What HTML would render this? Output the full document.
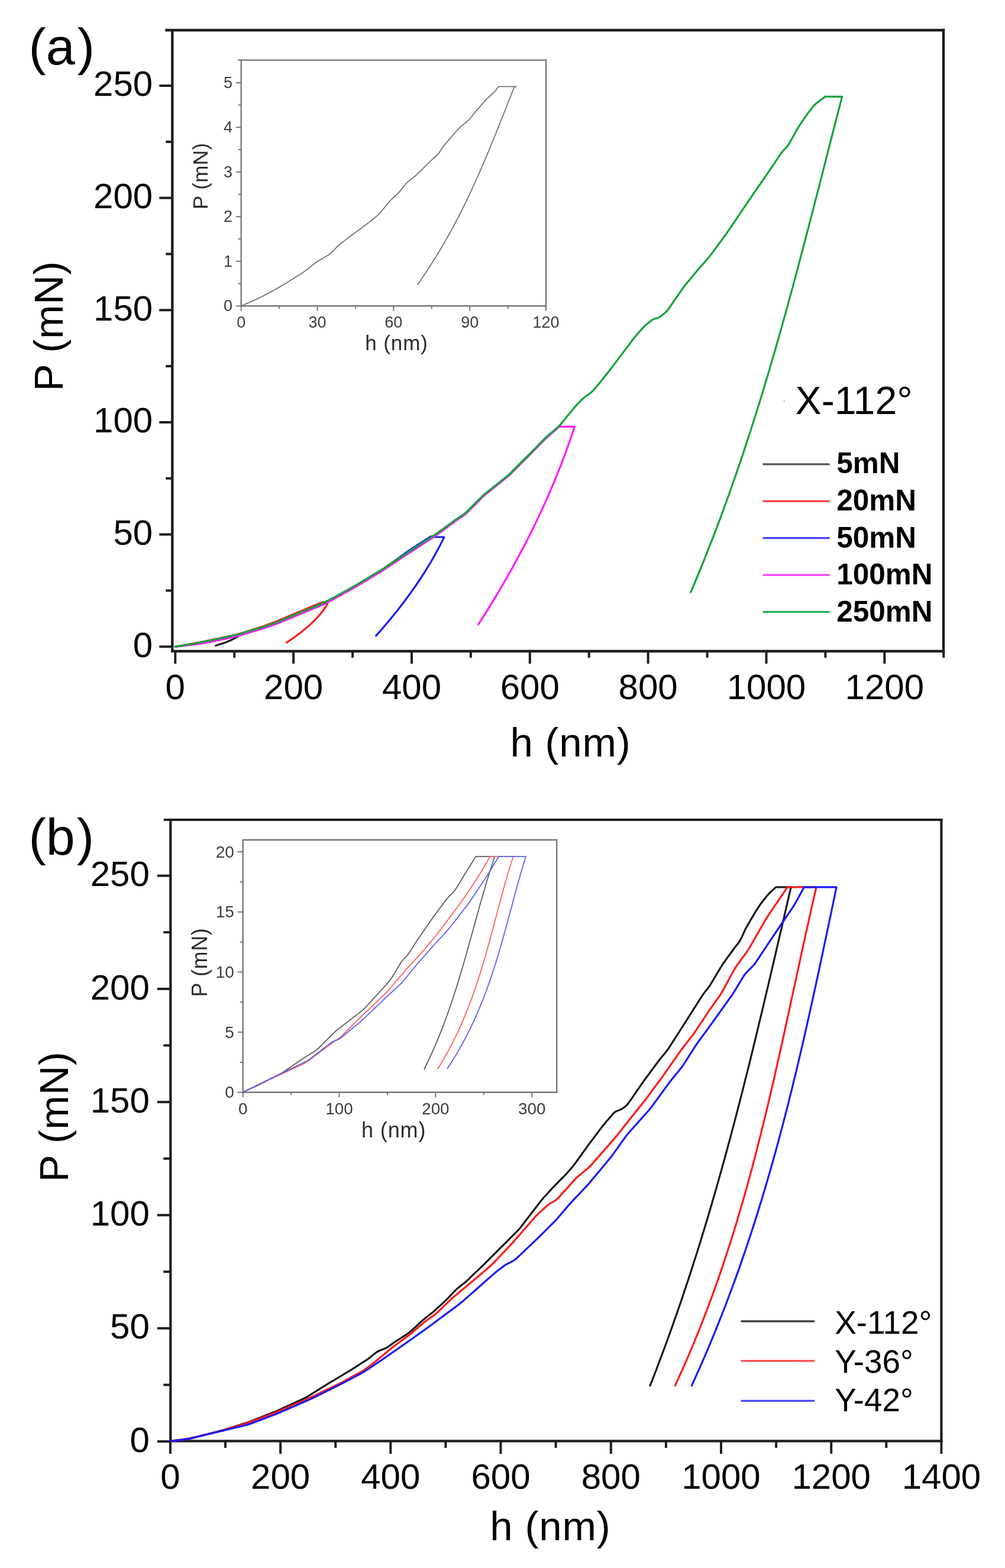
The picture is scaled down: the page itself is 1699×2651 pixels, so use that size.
<!DOCTYPE html>
<html><head><meta charset="utf-8"><title>Load-displacement curves</title>
<style>html,body{margin:0;padding:0;background:#fff;}svg{display:block;}</style>
</head><body>
<svg width="1699" height="2651" viewBox="0 0 1699 2651" font-family='"Liberation Sans", Arial, Helvetica, sans-serif'>
<rect width="1699" height="2651" fill="#fff"/>
<line x1="291.3" y1="51" x2="291.3" y2="1103" stroke="#1e1e1e" stroke-width="4.4" stroke-linecap="butt"/>
<line x1="1595" y1="48.8" x2="1595" y2="1103.2" stroke="#1e1e1e" stroke-width="4.4" stroke-linecap="butt"/>
<line x1="279.3" y1="51" x2="1597.2" y2="51" stroke="#1e1e1e" stroke-width="4.4" stroke-linecap="butt"/>
<line x1="289.1" y1="1101" x2="1597.2" y2="1101" stroke="#1e1e1e" stroke-width="4.4" stroke-linecap="butt"/>
<line x1="269.3" y1="1093.3" x2="291.3" y2="1093.3" stroke="#1e1e1e" stroke-width="4.0" stroke-linecap="butt"/>
<text x="258.2" y="1110.7" font-size="60" fill="#000" text-anchor="end">0</text>
<line x1="280.3" y1="998.5" x2="291.3" y2="998.5" stroke="#1e1e1e" stroke-width="4.0" stroke-linecap="butt"/>
<line x1="269.3" y1="903.6" x2="291.3" y2="903.6" stroke="#1e1e1e" stroke-width="4.0" stroke-linecap="butt"/>
<text x="258.2" y="921" font-size="60" fill="#000" text-anchor="end">50</text>
<line x1="280.3" y1="808.8" x2="291.3" y2="808.8" stroke="#1e1e1e" stroke-width="4.0" stroke-linecap="butt"/>
<line x1="269.3" y1="714" x2="291.3" y2="714" stroke="#1e1e1e" stroke-width="4.0" stroke-linecap="butt"/>
<text x="258.2" y="731.4" font-size="60" fill="#000" text-anchor="end">100</text>
<line x1="280.3" y1="619.1" x2="291.3" y2="619.1" stroke="#1e1e1e" stroke-width="4.0" stroke-linecap="butt"/>
<line x1="269.3" y1="524.3" x2="291.3" y2="524.3" stroke="#1e1e1e" stroke-width="4.0" stroke-linecap="butt"/>
<text x="258.2" y="541.7" font-size="60" fill="#000" text-anchor="end">150</text>
<line x1="280.3" y1="429.4" x2="291.3" y2="429.4" stroke="#1e1e1e" stroke-width="4.0" stroke-linecap="butt"/>
<line x1="269.3" y1="334.6" x2="291.3" y2="334.6" stroke="#1e1e1e" stroke-width="4.0" stroke-linecap="butt"/>
<text x="258.2" y="352" font-size="60" fill="#000" text-anchor="end">200</text>
<line x1="280.3" y1="239.8" x2="291.3" y2="239.8" stroke="#1e1e1e" stroke-width="4.0" stroke-linecap="butt"/>
<line x1="269.3" y1="144.9" x2="291.3" y2="144.9" stroke="#1e1e1e" stroke-width="4.0" stroke-linecap="butt"/>
<text x="258.2" y="162.3" font-size="60" fill="#000" text-anchor="end">250</text>
<line x1="296.3" y1="1101" x2="296.3" y2="1122" stroke="#1e1e1e" stroke-width="4.0" stroke-linecap="butt"/>
<text x="296.3" y="1181.6" font-size="60" fill="#000" text-anchor="middle">0</text>
<line x1="396.2" y1="1101" x2="396.2" y2="1112" stroke="#1e1e1e" stroke-width="4.0" stroke-linecap="butt"/>
<line x1="496.1" y1="1101" x2="496.1" y2="1122" stroke="#1e1e1e" stroke-width="4.0" stroke-linecap="butt"/>
<text x="496.1" y="1181.6" font-size="60" fill="#000" text-anchor="middle">200</text>
<line x1="596.1" y1="1101" x2="596.1" y2="1112" stroke="#1e1e1e" stroke-width="4.0" stroke-linecap="butt"/>
<line x1="696" y1="1101" x2="696" y2="1122" stroke="#1e1e1e" stroke-width="4.0" stroke-linecap="butt"/>
<text x="696" y="1181.6" font-size="60" fill="#000" text-anchor="middle">400</text>
<line x1="795.9" y1="1101" x2="795.9" y2="1112" stroke="#1e1e1e" stroke-width="4.0" stroke-linecap="butt"/>
<line x1="895.8" y1="1101" x2="895.8" y2="1122" stroke="#1e1e1e" stroke-width="4.0" stroke-linecap="butt"/>
<text x="895.8" y="1181.6" font-size="60" fill="#000" text-anchor="middle">600</text>
<line x1="995.7" y1="1101" x2="995.7" y2="1112" stroke="#1e1e1e" stroke-width="4.0" stroke-linecap="butt"/>
<line x1="1095.6" y1="1101" x2="1095.6" y2="1122" stroke="#1e1e1e" stroke-width="4.0" stroke-linecap="butt"/>
<text x="1095.6" y="1181.6" font-size="60" fill="#000" text-anchor="middle">800</text>
<line x1="1195.6" y1="1101" x2="1195.6" y2="1112" stroke="#1e1e1e" stroke-width="4.0" stroke-linecap="butt"/>
<line x1="1295.5" y1="1101" x2="1295.5" y2="1122" stroke="#1e1e1e" stroke-width="4.0" stroke-linecap="butt"/>
<text x="1295.5" y="1181.6" font-size="60" fill="#000" text-anchor="middle">1000</text>
<line x1="1395.4" y1="1101" x2="1395.4" y2="1112" stroke="#1e1e1e" stroke-width="4.0" stroke-linecap="butt"/>
<line x1="1495.3" y1="1101" x2="1495.3" y2="1122" stroke="#1e1e1e" stroke-width="4.0" stroke-linecap="butt"/>
<text x="1495.3" y="1181.6" font-size="60" fill="#000" text-anchor="middle">1200</text>
<line x1="1595.2" y1="1101" x2="1595.2" y2="1112" stroke="#1e1e1e" stroke-width="4.0" stroke-linecap="butt"/>
<text x="964.5" y="1279.4" font-size="69" fill="#000" text-anchor="middle" letter-spacing="0.8">h (nm)</text>
<text x="106" y="551.4" font-size="69" fill="#000" text-anchor="middle" transform="rotate(-90 106 551.4)" letter-spacing="0.5">P (mN)</text>
<text x="48.5" y="109.1" font-size="88" fill="#000">(a<tspan dx="4">)</tspan></text>
<text x="1344.5" y="700" font-size="66.2" fill="#000" text-anchor="start">X-112°</text>
<circle cx="1325.7" cy="678.2" r="1" fill="#888"/>
<line x1="1289.6" y1="784.9" x2="1402.6" y2="784.9" stroke="#555555" stroke-width="3.2" stroke-linecap="butt"/>
<text x="1414.2" y="800.3" font-size="49.5" fill="#000" text-anchor="start" font-weight="bold">5mN</text>
<line x1="1289.6" y1="847.3" x2="1402.6" y2="847.3" stroke="#ff4040" stroke-width="3.2" stroke-linecap="butt"/>
<text x="1414.2" y="862.9" font-size="49.5" fill="#000" text-anchor="start" font-weight="bold">20mN</text>
<line x1="1289.6" y1="909.7" x2="1402.6" y2="909.7" stroke="#4040ff" stroke-width="3.2" stroke-linecap="butt"/>
<text x="1414.2" y="925.5" font-size="49.5" fill="#000" text-anchor="start" font-weight="bold">50mN</text>
<line x1="1289.6" y1="972.1" x2="1402.6" y2="972.1" stroke="#ff40ff" stroke-width="3.2" stroke-linecap="butt"/>
<text x="1414.2" y="988.1" font-size="49.5" fill="#000" text-anchor="start" font-weight="bold">100mN</text>
<line x1="1289.6" y1="1034.5" x2="1402.6" y2="1034.5" stroke="#12b050" stroke-width="3.2" stroke-linecap="butt"/>
<text x="1414.2" y="1050.7" font-size="49.5" fill="#000" text-anchor="start" font-weight="bold">250mN</text>
<line x1="407.7" y1="101.6" x2="407.7" y2="518.3" stroke="#767676" stroke-width="2.4" stroke-linecap="butt"/>
<line x1="923" y1="100.4" x2="923" y2="518.5" stroke="#767676" stroke-width="2.4" stroke-linecap="butt"/>
<line x1="402.2" y1="101.6" x2="924.2" y2="101.6" stroke="#767676" stroke-width="2.4" stroke-linecap="butt"/>
<line x1="406.5" y1="517.3" x2="924.2" y2="517.3" stroke="#767676" stroke-width="2.4" stroke-linecap="butt"/>
<line x1="398.7" y1="517.3" x2="407.7" y2="517.3" stroke="#767676" stroke-width="2" stroke-linecap="butt"/>
<text x="393" y="526.2" font-size="27" fill="#3c3c3c" text-anchor="end">0</text>
<line x1="402.7" y1="479.5" x2="407.7" y2="479.5" stroke="#767676" stroke-width="2" stroke-linecap="butt"/>
<line x1="398.7" y1="441.8" x2="407.7" y2="441.8" stroke="#767676" stroke-width="2" stroke-linecap="butt"/>
<text x="393" y="450.7" font-size="27" fill="#3c3c3c" text-anchor="end">1</text>
<line x1="402.7" y1="404" x2="407.7" y2="404" stroke="#767676" stroke-width="2" stroke-linecap="butt"/>
<line x1="398.7" y1="366.3" x2="407.7" y2="366.3" stroke="#767676" stroke-width="2" stroke-linecap="butt"/>
<text x="393" y="375.2" font-size="27" fill="#3c3c3c" text-anchor="end">2</text>
<line x1="402.7" y1="328.5" x2="407.7" y2="328.5" stroke="#767676" stroke-width="2" stroke-linecap="butt"/>
<line x1="398.7" y1="290.8" x2="407.7" y2="290.8" stroke="#767676" stroke-width="2" stroke-linecap="butt"/>
<text x="393" y="299.7" font-size="27" fill="#3c3c3c" text-anchor="end">3</text>
<line x1="402.7" y1="253" x2="407.7" y2="253" stroke="#767676" stroke-width="2" stroke-linecap="butt"/>
<line x1="398.7" y1="215.3" x2="407.7" y2="215.3" stroke="#767676" stroke-width="2" stroke-linecap="butt"/>
<text x="393" y="224.2" font-size="27" fill="#3c3c3c" text-anchor="end">4</text>
<line x1="402.7" y1="177.5" x2="407.7" y2="177.5" stroke="#767676" stroke-width="2" stroke-linecap="butt"/>
<line x1="398.7" y1="139.8" x2="407.7" y2="139.8" stroke="#767676" stroke-width="2" stroke-linecap="butt"/>
<text x="393" y="148.7" font-size="27" fill="#3c3c3c" text-anchor="end">5</text>
<line x1="407.7" y1="517.3" x2="407.7" y2="525.8" stroke="#767676" stroke-width="2" stroke-linecap="butt"/>
<text x="407.7" y="553.8" font-size="27" fill="#3c3c3c" text-anchor="middle">0</text>
<line x1="472.1" y1="517.3" x2="472.1" y2="521.8" stroke="#767676" stroke-width="2" stroke-linecap="butt"/>
<line x1="536.5" y1="517.3" x2="536.5" y2="525.8" stroke="#767676" stroke-width="2" stroke-linecap="butt"/>
<text x="536.5" y="553.8" font-size="27" fill="#3c3c3c" text-anchor="middle">30</text>
<line x1="600.9" y1="517.3" x2="600.9" y2="521.8" stroke="#767676" stroke-width="2" stroke-linecap="butt"/>
<line x1="665.3" y1="517.3" x2="665.3" y2="525.8" stroke="#767676" stroke-width="2" stroke-linecap="butt"/>
<text x="665.3" y="553.8" font-size="27" fill="#3c3c3c" text-anchor="middle">60</text>
<line x1="729.8" y1="517.3" x2="729.8" y2="521.8" stroke="#767676" stroke-width="2" stroke-linecap="butt"/>
<line x1="794.2" y1="517.3" x2="794.2" y2="525.8" stroke="#767676" stroke-width="2" stroke-linecap="butt"/>
<text x="794.2" y="553.8" font-size="27" fill="#3c3c3c" text-anchor="middle">90</text>
<line x1="858.6" y1="517.3" x2="858.6" y2="521.8" stroke="#767676" stroke-width="2" stroke-linecap="butt"/>
<line x1="923" y1="517.3" x2="923" y2="525.8" stroke="#767676" stroke-width="2" stroke-linecap="butt"/>
<text x="923" y="553.8" font-size="27" fill="#3c3c3c" text-anchor="middle">120</text>
<text x="670.6" y="592.3" font-size="35" fill="#2c2c2c" text-anchor="middle" letter-spacing="0.9">h (nm)</text>
<text x="351.2" y="297.8" font-size="35" fill="#2c2c2c" text-anchor="middle" transform="rotate(-90 351.2 297.8)" letter-spacing="0.4">P (mN)</text>
<line x1="288.3" y1="1386" x2="288.3" y2="2438.4" stroke="#1e1e1e" stroke-width="4.2" stroke-linecap="butt"/>
<line x1="1591.4" y1="1384" x2="1591.4" y2="2438.4" stroke="#1e1e1e" stroke-width="4.2" stroke-linecap="butt"/>
<line x1="276.8" y1="1386" x2="1593.4" y2="1386" stroke="#1e1e1e" stroke-width="4.2" stroke-linecap="butt"/>
<line x1="286.3" y1="2436.4" x2="1593.4" y2="2436.4" stroke="#1e1e1e" stroke-width="4.2" stroke-linecap="butt"/>
<line x1="265.8" y1="2437" x2="288.3" y2="2437" stroke="#1e1e1e" stroke-width="4.0" stroke-linecap="butt"/>
<text x="252.8" y="2454.6" font-size="60" fill="#000" text-anchor="end">0</text>
<line x1="276.3" y1="2341.4" x2="288.3" y2="2341.4" stroke="#1e1e1e" stroke-width="4.0" stroke-linecap="butt"/>
<line x1="265.8" y1="2245.7" x2="288.3" y2="2245.7" stroke="#1e1e1e" stroke-width="4.0" stroke-linecap="butt"/>
<text x="252.8" y="2263.3" font-size="60" fill="#000" text-anchor="end">50</text>
<line x1="276.3" y1="2150.1" x2="288.3" y2="2150.1" stroke="#1e1e1e" stroke-width="4.0" stroke-linecap="butt"/>
<line x1="265.8" y1="2054.4" x2="288.3" y2="2054.4" stroke="#1e1e1e" stroke-width="4.0" stroke-linecap="butt"/>
<text x="252.8" y="2072" font-size="60" fill="#000" text-anchor="end">100</text>
<line x1="276.3" y1="1958.8" x2="288.3" y2="1958.8" stroke="#1e1e1e" stroke-width="4.0" stroke-linecap="butt"/>
<line x1="265.8" y1="1863.2" x2="288.3" y2="1863.2" stroke="#1e1e1e" stroke-width="4.0" stroke-linecap="butt"/>
<text x="252.8" y="1880.8" font-size="60" fill="#000" text-anchor="end">150</text>
<line x1="276.3" y1="1767.5" x2="288.3" y2="1767.5" stroke="#1e1e1e" stroke-width="4.0" stroke-linecap="butt"/>
<line x1="265.8" y1="1671.9" x2="288.3" y2="1671.9" stroke="#1e1e1e" stroke-width="4.0" stroke-linecap="butt"/>
<text x="252.8" y="1689.5" font-size="60" fill="#000" text-anchor="end">200</text>
<line x1="276.3" y1="1576.2" x2="288.3" y2="1576.2" stroke="#1e1e1e" stroke-width="4.0" stroke-linecap="butt"/>
<line x1="265.8" y1="1480.6" x2="288.3" y2="1480.6" stroke="#1e1e1e" stroke-width="4.0" stroke-linecap="butt"/>
<text x="252.8" y="1498.2" font-size="60" fill="#000" text-anchor="end">250</text>
<line x1="287.9" y1="2436.4" x2="287.9" y2="2457.9" stroke="#1e1e1e" stroke-width="4.0" stroke-linecap="butt"/>
<text x="287.9" y="2517.3" font-size="60" fill="#000" text-anchor="middle">0</text>
<line x1="381" y1="2436.4" x2="381" y2="2447.9" stroke="#1e1e1e" stroke-width="4.0" stroke-linecap="butt"/>
<line x1="474.1" y1="2436.4" x2="474.1" y2="2457.9" stroke="#1e1e1e" stroke-width="4.0" stroke-linecap="butt"/>
<text x="474.1" y="2517.3" font-size="60" fill="#000" text-anchor="middle">200</text>
<line x1="567.2" y1="2436.4" x2="567.2" y2="2447.9" stroke="#1e1e1e" stroke-width="4.0" stroke-linecap="butt"/>
<line x1="660.3" y1="2436.4" x2="660.3" y2="2457.9" stroke="#1e1e1e" stroke-width="4.0" stroke-linecap="butt"/>
<text x="660.3" y="2517.3" font-size="60" fill="#000" text-anchor="middle">400</text>
<line x1="753.4" y1="2436.4" x2="753.4" y2="2447.9" stroke="#1e1e1e" stroke-width="4.0" stroke-linecap="butt"/>
<line x1="846.5" y1="2436.4" x2="846.5" y2="2457.9" stroke="#1e1e1e" stroke-width="4.0" stroke-linecap="butt"/>
<text x="846.5" y="2517.3" font-size="60" fill="#000" text-anchor="middle">600</text>
<line x1="939.6" y1="2436.4" x2="939.6" y2="2447.9" stroke="#1e1e1e" stroke-width="4.0" stroke-linecap="butt"/>
<line x1="1032.8" y1="2436.4" x2="1032.8" y2="2457.9" stroke="#1e1e1e" stroke-width="4.0" stroke-linecap="butt"/>
<text x="1032.8" y="2517.3" font-size="60" fill="#000" text-anchor="middle">800</text>
<line x1="1125.9" y1="2436.4" x2="1125.9" y2="2447.9" stroke="#1e1e1e" stroke-width="4.0" stroke-linecap="butt"/>
<line x1="1219" y1="2436.4" x2="1219" y2="2457.9" stroke="#1e1e1e" stroke-width="4.0" stroke-linecap="butt"/>
<text x="1219" y="2517.3" font-size="60" fill="#000" text-anchor="middle">1000</text>
<line x1="1312.1" y1="2436.4" x2="1312.1" y2="2447.9" stroke="#1e1e1e" stroke-width="4.0" stroke-linecap="butt"/>
<line x1="1405.2" y1="2436.4" x2="1405.2" y2="2457.9" stroke="#1e1e1e" stroke-width="4.0" stroke-linecap="butt"/>
<text x="1405.2" y="2517.3" font-size="60" fill="#000" text-anchor="middle">1200</text>
<line x1="1498.3" y1="2436.4" x2="1498.3" y2="2447.9" stroke="#1e1e1e" stroke-width="4.0" stroke-linecap="butt"/>
<line x1="1591.4" y1="2436.4" x2="1591.4" y2="2457.9" stroke="#1e1e1e" stroke-width="4.0" stroke-linecap="butt"/>
<text x="1591.4" y="2517.3" font-size="60" fill="#000" text-anchor="middle">1400</text>
<text x="930.4" y="2603.8" font-size="69" fill="#000" text-anchor="middle" letter-spacing="0.8">h (nm)</text>
<text x="115.2" y="1888" font-size="69" fill="#000" text-anchor="middle" transform="rotate(-90 115.2 1888)" letter-spacing="0.6">P (mN)</text>
<text x="48.5" y="1444.5" font-size="88" fill="#000">(b<tspan dx="3">)</tspan></text>
<line x1="1252.6" y1="2233.9" x2="1377" y2="2233.9" stroke="#333333" stroke-width="3.2" stroke-linecap="butt"/>
<text x="1411.3" y="2254.9" font-size="54.8" fill="#000" text-anchor="start">X-112°</text>
<line x1="1252.6" y1="2300.8" x2="1377" y2="2300.8" stroke="#ff4a4a" stroke-width="3.2" stroke-linecap="butt"/>
<text x="1411.3" y="2321" font-size="54.8" fill="#000" text-anchor="start">Y-36°</text>
<line x1="1252.6" y1="2368.4" x2="1377" y2="2368.4" stroke="#4a4aff" stroke-width="3.2" stroke-linecap="butt"/>
<text x="1411.3" y="2385.8" font-size="54.8" fill="#000" text-anchor="start">Y-42°</text>
<line x1="410.7" y1="1420" x2="410.7" y2="1847.8" stroke="#767676" stroke-width="2.4" stroke-linecap="butt"/>
<line x1="941.2" y1="1418.8" x2="941.2" y2="1848" stroke="#767676" stroke-width="2.4" stroke-linecap="butt"/>
<line x1="409.5" y1="1420" x2="942.4" y2="1420" stroke="#767676" stroke-width="2.4" stroke-linecap="butt"/>
<line x1="409.5" y1="1846.8" x2="942.4" y2="1846.8" stroke="#767676" stroke-width="2.4" stroke-linecap="butt"/>
<line x1="401.7" y1="1846.8" x2="410.7" y2="1846.8" stroke="#767676" stroke-width="2" stroke-linecap="butt"/>
<text x="395.8" y="1856.4" font-size="28" fill="#3c3c3c" text-anchor="end">0</text>
<line x1="405.7" y1="1796" x2="410.7" y2="1796" stroke="#767676" stroke-width="2" stroke-linecap="butt"/>
<line x1="401.7" y1="1745.1" x2="410.7" y2="1745.1" stroke="#767676" stroke-width="2" stroke-linecap="butt"/>
<text x="395.8" y="1754.7" font-size="28" fill="#3c3c3c" text-anchor="end">5</text>
<line x1="405.7" y1="1694.3" x2="410.7" y2="1694.3" stroke="#767676" stroke-width="2" stroke-linecap="butt"/>
<line x1="401.7" y1="1643.5" x2="410.7" y2="1643.5" stroke="#767676" stroke-width="2" stroke-linecap="butt"/>
<text x="395.8" y="1653.1" font-size="28" fill="#3c3c3c" text-anchor="end">10</text>
<line x1="405.7" y1="1592.7" x2="410.7" y2="1592.7" stroke="#767676" stroke-width="2" stroke-linecap="butt"/>
<line x1="401.7" y1="1541.8" x2="410.7" y2="1541.8" stroke="#767676" stroke-width="2" stroke-linecap="butt"/>
<text x="395.8" y="1551.4" font-size="28" fill="#3c3c3c" text-anchor="end">15</text>
<line x1="405.7" y1="1491" x2="410.7" y2="1491" stroke="#767676" stroke-width="2" stroke-linecap="butt"/>
<line x1="401.7" y1="1440.2" x2="410.7" y2="1440.2" stroke="#767676" stroke-width="2" stroke-linecap="butt"/>
<text x="395.8" y="1449.8" font-size="28" fill="#3c3c3c" text-anchor="end">20</text>
<line x1="410.7" y1="1846.8" x2="410.7" y2="1855.3" stroke="#767676" stroke-width="2" stroke-linecap="butt"/>
<text x="410.7" y="1883.6" font-size="27.8" fill="#3c3c3c" text-anchor="middle">0</text>
<line x1="492.1" y1="1846.8" x2="492.1" y2="1851.3" stroke="#767676" stroke-width="2" stroke-linecap="butt"/>
<line x1="573.5" y1="1846.8" x2="573.5" y2="1855.3" stroke="#767676" stroke-width="2" stroke-linecap="butt"/>
<text x="573.5" y="1883.6" font-size="27.8" fill="#3c3c3c" text-anchor="middle">100</text>
<line x1="655" y1="1846.8" x2="655" y2="1851.3" stroke="#767676" stroke-width="2" stroke-linecap="butt"/>
<line x1="736.4" y1="1846.8" x2="736.4" y2="1855.3" stroke="#767676" stroke-width="2" stroke-linecap="butt"/>
<text x="736.4" y="1883.6" font-size="27.8" fill="#3c3c3c" text-anchor="middle">200</text>
<line x1="817.8" y1="1846.8" x2="817.8" y2="1851.3" stroke="#767676" stroke-width="2" stroke-linecap="butt"/>
<line x1="899.2" y1="1846.8" x2="899.2" y2="1855.3" stroke="#767676" stroke-width="2" stroke-linecap="butt"/>
<text x="899.2" y="1883.6" font-size="27.8" fill="#3c3c3c" text-anchor="middle">300</text>
<text x="665.7" y="1922.6" font-size="36" fill="#2c2c2c" text-anchor="middle" letter-spacing="0.9">h (nm)</text>
<text x="349.8" y="1627.1" font-size="36" fill="#2c2c2c" text-anchor="middle" transform="rotate(-90 349.8 1627.1)" letter-spacing="0.6">P (mN)</text>
<path d="M296.3,1093.3 L299.2,1092.9 L302.2,1092.4 L305.1,1092 L308,1091.5 L311,1091.1 L313.9,1090.7 L316.8,1090.2 L319.8,1089.8 L322.7,1089.3 L325.7,1088.9 L328.6,1088.4 L331.5,1087.9 L334.5,1087.5 L337.4,1086.9 L340.3,1086.4 L343.3,1085.9 L346.2,1085.3 L349.1,1084.8 L352.1,1084.2 L355,1083.7 L357.9,1083.2 L360.9,1082.6 L363.8,1082.1 L366.7,1081.5 L369.7,1081 L372.6,1080.4 L375.5,1079.8 L378.5,1079.2 L381.4,1078.6 L384.4,1078 L387.3,1077.4 L390.2,1076.8 L393.2,1076.2 L396.1,1075.5 L399,1074.8 L402,1074 L404.9,1073.2 L404.9,1073.2 L404.9,1073.2 L404.9,1073.8 L400.8,1076.8 L395.7,1079.7 L389.5,1082.7 L382.3,1085.7 L374,1088.6 L364.7,1091.6" fill="none" stroke="#1a1a1a" stroke-width="3.2" stroke-linejoin="round" stroke-linecap="round"/>
<path d="M296.3,1093.3 L299.3,1092.8 L302.2,1092.3 L305.2,1091.8 L308.2,1091.3 L311.2,1090.7 L314.1,1090.2 L317.1,1089.7 L320.1,1089.2 L323,1088.7 L326,1088.2 L329,1087.6 L332,1087 L334.9,1086.4 L337.9,1085.8 L340.9,1085.2 L343.9,1084.6 L346.8,1084 L349.8,1083.4 L352.8,1082.8 L355.7,1082.2 L358.7,1081.6 L361.7,1081 L364.7,1080.4 L367.6,1079.8 L370.6,1079.2 L373.6,1078.6 L376.5,1077.9 L379.5,1077.3 L382.5,1076.6 L385.5,1076 L388.4,1075.3 L391.4,1074.7 L394.4,1074 L397.3,1073.3 L400.3,1072.6 L403.3,1071.8 L406.3,1070.9 L409.2,1070 L412.2,1069.2 L415.2,1068.3 L418.1,1067.4 L421.1,1066.5 L424.1,1065.6 L427.1,1064.6 L430,1063.7 L433,1062.7 L436,1061.8 L439,1060.8 L441.9,1059.9 L444.9,1058.9 L447.9,1057.8 L450.8,1056.8 L453.8,1055.6 L456.8,1054.5 L459.8,1053.4 L462.7,1052.3 L465.7,1051.2 L468.7,1050 L471.6,1048.8 L474.6,1047.5 L477.6,1046.2 L480.6,1044.9 L483.5,1043.6 L486.5,1042.4 L489.5,1041.1 L492.4,1039.9 L495.4,1038.7 L498.4,1037.4 L501.4,1036.2 L504.3,1034.9 L507.3,1033.7 L510.3,1032.5 L513.3,1031.2 L516.2,1030 L519.2,1028.8 L522.2,1027.5 L525.1,1026.3 L528.1,1025.1 L531.1,1023.8 L534.1,1022.6 L537,1021.4 L540,1020.1 L547.5,1017.8 L553.8,1020.2 L552,1023.8 L550,1026.8 L548,1029.7 L545.8,1032.7 L543.4,1035.7 L541,1038.7 L538.4,1041.7 L535.7,1044.7 L532.9,1047.6 L529.9,1050.6 L526.8,1053.6 L523.6,1056.6 L520.3,1059.6 L516.8,1062.5 L513.2,1065.5 L509.5,1068.5 L505.6,1071.5 L501.6,1074.5 L497.5,1077.5 L493.3,1080.4 L488.9,1083.4 L484.4,1086.4" fill="none" stroke="#ff1a1a" stroke-width="3.2" stroke-linejoin="round" stroke-linecap="round"/>
<path d="M296.3,1093.3 L299.3,1092.9 L302.3,1092.5 L305.2,1092.1 L308.2,1091.7 L311.2,1091.3 L314.2,1090.9 L317.2,1090.5 L320.2,1090.1 L323.1,1089.8 L326.1,1089.4 L329.1,1088.9 L332.1,1088.4 L335.1,1087.9 L338,1087.4 L341,1086.8 L344,1086.2 L347,1085.6 L350,1085 L352.9,1084.4 L355.9,1083.8 L358.9,1083.2 L361.9,1082.6 L364.9,1082 L367.9,1081.4 L370.8,1080.8 L373.8,1080.1 L376.8,1079.5 L379.8,1078.8 L382.8,1078.2 L385.7,1077.5 L388.7,1076.9 L391.7,1076.2 L394.7,1075.6 L397.7,1074.9 L400.6,1074.1 L403.6,1073.3 L406.6,1072.4 L409.6,1071.5 L412.6,1070.7 L415.6,1069.8 L418.5,1068.9 L421.5,1068 L424.5,1067.2 L427.5,1066.3 L430.5,1065.4 L433.4,1064.5 L436.4,1063.7 L439.4,1062.8 L442.4,1061.9 L445.4,1061 L448.4,1060 L451.3,1059 L454.3,1058 L457.3,1056.9 L460.3,1055.9 L463.3,1054.8 L466.2,1053.8 L469.2,1052.7 L472.2,1051.6 L475.2,1050.3 L478.2,1049.1 L481.1,1047.8 L484.1,1046.6 L487.1,1045.3 L490.1,1044.1 L493.1,1042.8 L496.1,1041.6 L499,1040.4 L502,1039.1 L505,1037.9 L508,1036.6 L511,1035.4 L513.9,1034.1 L516.9,1032.9 L519.9,1031.7 L522.9,1030.4 L525.9,1029.2 L528.8,1028 L531.8,1026.7 L534.8,1025.5 L537.8,1024.2 L540.8,1023 L543.8,1021.8 L546.7,1020.5 L549.7,1019 L552.7,1017.5 L555.7,1015.9 L558.7,1014.3 L561.6,1012.7 L564.6,1011.2 L567.6,1009.6 L570.6,1007.9 L573.6,1006.3 L576.5,1004.6 L579.5,1002.9 L582.5,1001.3 L585.5,999.6 L588.5,997.9 L591.5,996.2 L594.4,994.6 L597.4,992.9 L600.4,991.2 L603.4,989.5 L606.4,987.7 L609.3,985.9 L612.3,984.1 L615.3,982.3 L618.3,980.6 L621.3,978.8 L624.3,977 L627.2,975.2 L630.2,973.4 L633.2,971.6 L636.2,969.8 L639.2,968 L642.1,966.1 L645.1,964.1 L648.1,962 L651.1,959.8 L654.1,957.7 L657,955.5 L660,953.3 L663,951.2 L666,949 L669,946.8 L672,944.7 L674.9,942.5 L677.9,940.3 L680.9,938.2 L683.9,936 L686.9,933.9 L689.8,931.7 L692.8,929.8 L695.8,927.8 L698.8,925.9 L701.8,924 L704.7,922 L707.7,920.1 L710.7,918.2 L713.7,916.3 L716.7,914.3 L719.7,912.4 L722.6,910.5 L725.6,908.5 L728.6,906.6 L728.6,908 L750.9,908 L750.9,908 L749,912 L747,915.9 L745,919.9 L742.9,923.9 L740.8,927.9 L738.7,931.8 L736.5,935.8 L734.3,939.8 L732,943.8 L729.7,947.7 L727.4,951.7 L725,955.7 L722.6,959.7 L720.2,963.6 L717.7,967.6 L715.1,971.6 L712.6,975.6 L710,979.5 L707.3,983.5 L704.6,987.5 L701.9,991.5 L699.1,995.4 L696.3,999.4 L693.5,1003.4 L690.6,1007.3 L687.7,1011.3 L684.8,1015.3 L681.8,1019.3 L678.7,1023.2 L675.6,1027.2 L672.5,1031.2 L669.4,1035.2 L666.2,1039.1 L663,1043.1 L659.7,1047.1 L656.4,1051.1 L653,1055 L649.6,1059 L646.2,1063 L642.8,1067 L639.3,1070.9 L635.7,1074.9" fill="none" stroke="#1a1aff" stroke-width="3.2" stroke-linejoin="round" stroke-linecap="round"/>
<path d="M296.3,1093.3 L299.3,1093 L302.3,1092.6 L305.3,1092.3 L308.3,1092 L311.3,1091.6 L314.3,1091.3 L317.3,1091 L320.3,1090.7 L323.3,1090.3 L326.3,1090 L329.3,1089.6 L332.3,1089.2 L335.3,1088.8 L338.3,1088.3 L341.3,1087.9 L344.3,1087.4 L347.3,1086.9 L350.3,1086.3 L353.3,1085.7 L356.3,1085.1 L359.3,1084.5 L362.3,1083.9 L365.3,1083.3 L368.3,1082.7 L371.3,1082.1 L374.3,1081.4 L377.3,1080.8 L380.3,1080.1 L383.3,1079.4 L386.3,1078.8 L389.3,1078.1 L392.3,1077.5 L395.3,1076.8 L398.3,1076.1 L401.3,1075.3 L404.3,1074.5 L407.3,1073.6 L410.3,1072.7 L413.3,1071.9 L416.3,1071 L419.3,1070.1 L422.3,1069.2 L425.3,1068.3 L428.3,1067.5 L431.3,1066.6 L434.3,1065.7 L437.3,1064.8 L440.3,1064 L443.3,1063.1 L446.3,1062.1 L449.3,1061.1 L452.3,1060.1 L455.3,1059 L458.3,1058 L461.2,1057 L464.2,1055.9 L467.2,1054.8 L470.2,1053.7 L473.2,1052.5 L476.2,1051.3 L479.2,1050 L482.2,1048.8 L485.2,1047.5 L488.2,1046.3 L491.2,1045 L494.2,1043.8 L497.2,1042.5 L500.2,1041.3 L503.2,1040 L506.2,1038.8 L509.2,1037.5 L512.2,1036.3 L515.2,1035 L518.2,1033.8 L521.2,1032.5 L524.2,1031.3 L527.2,1030 L530.2,1028.8 L533.2,1027.5 L536.2,1026.3 L539.2,1025 L542.2,1023.8 L545.2,1022.5 L548.2,1021.2 L551.2,1019.7 L554.2,1018.1 L557.2,1016.5 L560.2,1014.9 L563.2,1013.3 L566.2,1011.7 L569.2,1010.1 L572.2,1008.4 L575.2,1006.8 L578.2,1005.1 L581.2,1003.4 L584.2,1001.7 L587.2,1000 L590.2,998.3 L593.2,996.6 L596.2,995 L599.2,993.3 L602.2,991.6 L605.2,989.8 L608.2,988 L611.2,986.2 L614.2,984.4 L617.2,982.6 L620.2,980.8 L623.2,979 L626.2,977.2 L629.2,975.4 L632.2,973.6 L635.2,971.8 L638.2,970 L641.2,968.2 L644.2,966.4 L647.2,964.5 L650.2,962.5 L653.2,960.5 L656.2,958.5 L659.2,956.5 L662.2,954.5 L665.2,952.5 L668.2,950.5 L671.2,948.5 L674.2,946.5 L677.2,944.5 L680.2,942.5 L683.2,940.5 L686.2,938.5 L689.2,936.5 L692.2,934.6 L695.2,932.6 L698.2,930.7 L701.2,928.8 L704.2,926.8 L707.2,924.8 L710.2,922.9 L713.2,920.9 L716.2,918.9 L719.2,917 L722.2,915 L725.2,913.1 L728.2,911.1 L731.2,909.1 L734.2,907.2 L737.2,905.1 L740.2,903 L743.2,900.8 L746.2,898.6 L749.2,896.4 L752.2,894.1 L755.2,891.9 L758.2,889.7 L761.2,887.5 L764.2,885.3 L767.2,883.1 L770.2,880.9 L773.2,878.7 L776.2,876.7 L779.2,874.8 L782.2,872.8 L785.1,870.7 L788.1,868.1 L791.1,865.1 L794.1,862.1 L797.1,859.1 L800.1,856 L803.1,853 L806.1,850 L809.1,847 L812.1,843.9 L815.1,840.9 L818.1,838.2 L821.1,835.7 L824.1,833.3 L827.1,830.9 L830.1,828.4 L833.1,826 L836.1,823.6 L839.1,821.2 L842.1,818.8 L845.1,816.4 L848.1,814 L851.1,811.6 L854.1,809.2 L857.1,806.8 L860.1,804.2 L863.1,801.4 L866.1,798.4 L869.1,795.4 L872.1,792.4 L875.1,789.4 L878.1,786.4 L881.1,783.4 L884.1,780.4 L887.1,777.4 L890.1,774.4 L893.1,771.4 L896.1,768.3 L899.1,765.3 L902.1,762.2 L905.1,759.2 L908.1,756.1 L911.1,753 L914.1,750 L917.1,746.9 L920.1,743.9 L923.1,741 L926.1,738.3 L929.1,735.7 L932.1,733.1 L935.1,730.5 L938.1,727.9 L941.1,725.3 L944.1,722.6 L947.1,719.7 L947.1,721.4 L971.4,721.4 L971.4,721.4 L970.1,725.4 L968.7,729.4 L967.4,733.3 L966.1,737.3 L964.7,741.3 L963.3,745.3 L961.9,749.3 L960.5,753.2 L959.1,757.2 L957.6,761.2 L956.2,765.2 L954.7,769.2 L953.2,773.1 L951.7,777.1 L950.2,781.1 L948.6,785.1 L947.1,789.1 L945.5,793 L943.9,797 L942.3,801 L940.7,805 L939.1,809 L937.5,812.9 L935.8,816.9 L934.1,820.9 L932.4,824.9 L930.7,828.9 L929,832.8 L927.3,836.8 L925.5,840.8 L923.8,844.8 L922,848.8 L920.2,852.7 L918.4,856.7 L916.6,860.7 L914.7,864.7 L912.9,868.7 L911,872.6 L909.1,876.6 L907.2,880.6 L905.3,884.6 L903.4,888.5 L901.4,892.5 L899.5,896.5 L897.5,900.5 L895.5,904.5 L893.5,908.4 L891.5,912.4 L889.5,916.4 L887.4,920.4 L885.3,924.4 L883.3,928.3 L881.2,932.3 L879.1,936.3 L876.9,940.3 L874.8,944.3 L872.6,948.2 L870.5,952.2 L868.3,956.2 L866.1,960.2 L863.9,964.2 L861.6,968.1 L859.4,972.1 L857.1,976.1 L854.8,980.1 L852.6,984.1 L850.2,988 L847.9,992 L845.6,996 L843.2,1000 L840.9,1004 L838.5,1007.9 L836.1,1011.9 L833.7,1015.9 L831.2,1019.9 L828.8,1023.9 L826.3,1027.8 L823.9,1031.8 L821.4,1035.8 L818.9,1039.8 L816.3,1043.8 L813.8,1047.7 L811.3,1051.7 L808.7,1055.7" fill="none" stroke="#ff1aff" stroke-width="3.2" stroke-linejoin="round" stroke-linecap="round"/>
<path d="M296.3,1093.3 L299.3,1092.8 L302.3,1092.3 L305.3,1091.8 L308.3,1091.4 L311.3,1090.9 L314.3,1090.4 L317.3,1089.9 L320.2,1089.4 L323.2,1088.9 L326.2,1088.4 L329.2,1087.9 L332.2,1087.3 L335.2,1086.8 L338.2,1086.2 L341.2,1085.6 L344.2,1085 L347.2,1084.4 L350.2,1083.8 L353.2,1083.2 L356.2,1082.6 L359.2,1082 L362.1,1081.4 L365.1,1080.7 L368.1,1080.1 L371.1,1079.5 L374.1,1078.8 L377.1,1078.2 L380.1,1077.5 L383.1,1076.9 L386.1,1076.2 L389.1,1075.6 L392.1,1074.9 L395.1,1074.3 L398.1,1073.6 L401.1,1072.8 L404,1071.9 L407,1071.1 L410,1070.2 L413,1069.3 L416,1068.4 L419,1067.6 L422,1066.7 L425,1065.8 L428,1064.9 L431,1064.1 L434,1063.2 L437,1062.3 L440,1061.4 L443,1060.5 L445.9,1059.6 L448.9,1058.6 L451.9,1057.6 L454.9,1056.6 L457.9,1055.5 L460.9,1054.5 L463.9,1053.4 L466.9,1052.4 L469.9,1051.3 L472.9,1050.1 L475.9,1048.8 L478.9,1047.6 L481.9,1046.3 L484.9,1045.1 L487.8,1043.8 L490.8,1042.6 L493.8,1041.3 L496.8,1040.1 L499.8,1038.8 L502.8,1037.6 L505.8,1036.3 L508.8,1035.1 L511.8,1033.8 L514.8,1032.6 L517.8,1031.4 L520.8,1030.1 L523.8,1028.9 L526.8,1027.6 L529.7,1026.4 L532.7,1025.1 L535.7,1023.9 L538.7,1022.7 L541.7,1021.4 L544.7,1020.1 L547.7,1018.8 L550.7,1017.3 L553.7,1015.8 L556.7,1014.2 L559.7,1012.6 L562.7,1011 L565.7,1009.4 L568.7,1007.8 L571.6,1006.2 L574.6,1004.5 L577.6,1002.8 L580.6,1001.1 L583.6,999.4 L586.6,997.8 L589.6,996.1 L592.6,994.4 L595.6,992.7 L598.6,991 L601.6,989.3 L604.6,987.6 L607.6,985.8 L610.6,984 L613.5,982.2 L616.5,980.4 L619.5,978.6 L622.5,976.8 L625.5,975 L628.5,973.2 L631.5,971.4 L634.5,969.6 L637.5,967.8 L640.5,966 L643.5,964.2 L646.5,962.3 L649.5,960.4 L652.5,958.4 L655.4,956.4 L658.4,954.4 L661.4,952.4 L664.4,950.4 L667.4,948.4 L670.4,946.4 L673.4,944.4 L676.4,942.4 L679.4,940.4 L682.4,938.4 L685.4,936.4 L688.4,934.5 L691.4,932.5 L694.4,930.6 L697.4,928.6 L700.3,926.7 L703.3,924.8 L706.3,922.8 L709.3,920.9 L712.3,918.9 L715.3,917 L718.3,915.1 L721.3,913.1 L724.3,911.2 L727.3,909.3 L730.3,907.3 L733.3,905.4 L736.3,903.4 L739.3,901.3 L742.2,899.1 L745.2,897 L748.2,894.8 L751.2,892.6 L754.2,890.4 L757.2,888.2 L760.2,886 L763.2,883.8 L766.2,881.6 L769.2,879.4 L772.2,877.3 L775.2,875.2 L778.2,873.3 L781.2,871.4 L784.1,869.4 L787.1,867 L790.1,864.1 L793.1,861.2 L796.1,858.1 L799.1,855.1 L802.1,852.1 L805.1,849.1 L808.1,846.1 L811.1,843.1 L814.1,840.2 L817.1,837.3 L820.1,834.8 L823.1,832.4 L826,830 L829,827.6 L832,825.2 L835,822.8 L838,820.4 L841,818 L844,815.7 L847,813.3 L850,810.9 L853,808.5 L856,806.1 L859,803.6 L862,800.9 L865,797.9 L867.9,795 L870.9,792 L873.9,789 L876.9,786 L879.9,783 L882.9,780 L885.9,777 L888.9,774 L891.9,771 L894.9,768 L897.9,764.9 L900.9,761.9 L903.9,758.8 L906.9,755.8 L909.8,752.7 L912.8,749.7 L915.8,746.6 L918.8,743.5 L921.8,740.6 L924.8,737.9 L927.8,735.3 L930.8,732.7 L933.8,730 L936.8,727.4 L939.8,724.8 L942.8,722.2 L945.8,719.5 L948.8,716.2 L951.7,712.6 L954.7,709 L957.7,705.3 L960.7,701.6 L963.7,698 L966.7,694.3 L969.7,690.6 L972.7,687 L975.7,683.6 L978.7,680.6 L981.7,677.6 L984.7,674.6 L987.7,672 L990.7,669.8 L993.6,667.7 L996.6,665.6 L999.6,663.3 L1002.6,660.3 L1005.6,656.8 L1008.6,653.4 L1011.6,649.9 L1014.6,646.3 L1017.6,642.6 L1020.6,638.8 L1023.6,635 L1026.6,631.2 L1029.6,627.4 L1032.6,623.5 L1035.6,619.7 L1038.5,615.9 L1041.5,611.9 L1044.5,607.9 L1047.5,603.9 L1050.5,599.9 L1053.5,595.9 L1056.5,591.9 L1059.5,587.9 L1062.5,584 L1065.5,580 L1068.5,576 L1071.5,572 L1074.5,568.2 L1077.5,564.8 L1080.4,561.5 L1083.4,558.2 L1086.4,554.9 L1089.4,551.7 L1092.4,548.9 L1095.4,546.4 L1098.4,544 L1101.4,541.7 L1104.4,539.9 L1107.4,538.8 L1110.4,537.9 L1113.4,536.9 L1116.4,535.2 L1119.4,533 L1122.3,530.6 L1125.3,528 L1128.3,524.9 L1131.3,520.7 L1134.3,516.4 L1137.3,512 L1140.3,507.7 L1143.3,503.3 L1146.3,499 L1149.3,494.6 L1152.3,490.2 L1155.3,486 L1158.3,482.2 L1161.3,478.6 L1164.2,475 L1167.2,471.4 L1170.2,467.8 L1173.2,464.2 L1176.2,460.6 L1179.2,457 L1182.2,453.5 L1185.2,450 L1188.2,446.6 L1191.2,443.2 L1194.2,439.8 L1197.2,436.3 L1200.2,432.7 L1203.2,428.8 L1206.1,424.7 L1209.1,420.7 L1212.1,416.6 L1215.1,412.5 L1218.1,408.5 L1221.1,404.4 L1224.1,400.3 L1227.1,396.2 L1230.1,392 L1233.1,387.6 L1236.1,383.2 L1239.1,378.8 L1242.1,374.4 L1245.1,370 L1248,365.6 L1251,361.2 L1254,356.7 L1257,352.3 L1260,347.9 L1263,343.5 L1266,339 L1269,334.6 L1272,330.2 L1275,325.7 L1278,321.3 L1281,317 L1284,312.8 L1287,308.5 L1289.9,304.3 L1292.9,300 L1295.9,295.7 L1298.9,291.3 L1301.9,286.8 L1304.9,282.3 L1307.9,277.8 L1310.9,273.3 L1313.9,268.8 L1316.9,264.3 L1319.9,259.9 L1322.9,256 L1325.9,252.8 L1328.9,249.7 L1331.8,246.4 L1334.8,241.8 L1337.8,236.3 L1340.8,230.8 L1343.8,225.3 L1346.8,219.9 L1349.8,215 L1352.8,210.4 L1355.8,205.9 L1358.8,201.4 L1361.8,197 L1364.8,192.7 L1367.8,188.8 L1370.8,184.9 L1373.7,181 L1376.7,177.6 L1379.7,175 L1382.7,172.7 L1385.7,170.5 L1388.7,168.2 L1391.7,165.9 L1394.7,163.4 L1394.7,163.4 L1423.5,163.4 L1423.6,163.7 L1422.5,167.7 L1421.5,171.7 L1420.4,175.7 L1419.4,179.7 L1418.4,183.6 L1417.3,187.6 L1416.3,191.6 L1415.3,195.6 L1414.3,199.6 L1413.2,203.6 L1412.2,207.6 L1411.2,211.6 L1410.1,215.6 L1409.1,219.5 L1408.1,223.5 L1407.1,227.5 L1406,231.5 L1405,235.5 L1404,239.5 L1403,243.5 L1402,247.5 L1400.9,251.4 L1399.9,255.4 L1398.9,259.4 L1397.9,263.4 L1396.8,267.4 L1395.8,271.4 L1394.8,275.4 L1393.8,279.4 L1392.8,283.4 L1391.7,287.3 L1390.7,291.3 L1389.7,295.3 L1388.7,299.3 L1387.6,303.3 L1386.6,307.3 L1385.6,311.3 L1384.6,315.3 L1383.6,319.3 L1382.5,323.2 L1381.5,327.2 L1380.5,331.2 L1379.5,335.2 L1378.4,339.2 L1377.4,343.2 L1376.4,347.2 L1375.3,351.2 L1374.3,355.2 L1373.3,359.1 L1372.3,363.1 L1371.2,367.1 L1370.2,371.1 L1369.2,375.1 L1368.1,379.1 L1367.1,383.1 L1366.1,387.1 L1365,391 L1364,395 L1362.9,399 L1361.9,403 L1360.9,407 L1359.8,411 L1358.8,415 L1357.7,419 L1356.7,423 L1355.6,426.9 L1354.6,430.9 L1353.5,434.9 L1352.5,438.9 L1351.4,442.9 L1350.3,446.9 L1349.3,450.9 L1348.2,454.9 L1347.2,458.9 L1346.1,462.8 L1345,466.8 L1344,470.8 L1342.9,474.8 L1341.8,478.8 L1340.7,482.8 L1339.7,486.8 L1338.6,490.8 L1337.5,494.8 L1336.4,498.7 L1335.3,502.7 L1334.2,506.7 L1333.2,510.7 L1332.1,514.7 L1331,518.7 L1329.9,522.7 L1328.8,526.7 L1327.7,530.6 L1326.6,534.6 L1325.4,538.6 L1324.3,542.6 L1323.2,546.6 L1322.1,550.6 L1321,554.6 L1319.9,558.6 L1318.7,562.6 L1317.6,566.5 L1316.5,570.5 L1315.3,574.5 L1314.2,578.5 L1313.1,582.5 L1311.9,586.5 L1310.8,590.5 L1309.6,594.5 L1308.5,598.5 L1307.3,602.4 L1306.1,606.4 L1305,610.4 L1303.8,614.4 L1302.6,618.4 L1301.5,622.4 L1300.3,626.4 L1299.1,630.4 L1297.9,634.4 L1296.7,638.3 L1295.5,642.3 L1294.3,646.3 L1293.1,650.3 L1291.9,654.3 L1290.7,658.3 L1289.5,662.3 L1288.3,666.3 L1287.1,670.2 L1285.9,674.2 L1284.6,678.2 L1283.4,682.2 L1282.2,686.2 L1280.9,690.2 L1279.7,694.2 L1278.4,698.2 L1277.2,702.2 L1275.9,706.1 L1274.7,710.1 L1273.4,714.1 L1272.1,718.1 L1270.8,722.1 L1269.6,726.1 L1268.3,730.1 L1267,734.1 L1265.7,738.1 L1264.4,742 L1263.1,746 L1261.8,750 L1260.5,754 L1259.1,758 L1257.8,762 L1256.5,766 L1255.2,770 L1253.8,774 L1252.5,777.9 L1251.1,781.9 L1249.8,785.9 L1248.4,789.9 L1247,793.9 L1245.7,797.9 L1244.3,801.9 L1242.9,805.9 L1241.5,809.8 L1240.1,813.8 L1238.7,817.8 L1237.3,821.8 L1235.9,825.8 L1234.5,829.8 L1233.1,833.8 L1231.7,837.8 L1230.2,841.8 L1228.8,845.7 L1227.4,849.7 L1225.9,853.7 L1224.4,857.7 L1223,861.7 L1221.5,865.7 L1220,869.7 L1218.6,873.7 L1217.1,877.7 L1215.6,881.6 L1214.1,885.6 L1212.6,889.6 L1211.1,893.6 L1209.6,897.6 L1208,901.6 L1206.5,905.6 L1205,909.6 L1203.4,913.6 L1201.9,917.5 L1200.3,921.5 L1198.7,925.5 L1197.2,929.5 L1195.6,933.5 L1194,937.5 L1192.4,941.5 L1190.8,945.5 L1189.2,949.4 L1187.6,953.4 L1186,957.4 L1184.4,961.4 L1182.7,965.4 L1181.1,969.4 L1179.4,973.4 L1177.8,977.4 L1176.1,981.4 L1174.5,985.3 L1172.8,989.3 L1171.1,993.3 L1169.4,997.3 L1167.7,1001.3" fill="none" stroke="#12a33a" stroke-width="3.2" stroke-linejoin="round" stroke-linecap="round"/>
<path d="M407.9,517.3 L410.6,516.1 L413.4,514.9 L416.1,513.6 L418.9,512.4 L421.6,511.2 L424.3,510 L427.1,508.8 L429.8,507.5 L432.6,506.3 L435.3,505.1 L438,503.8 L440.7,502.5 L443.4,501.2 L446,499.8 L448.7,498.4 L451.3,496.9 L454,495.5 L456.6,494.1 L459.3,492.7 L461.9,491.3 L464.6,489.8 L467.2,488.4 L469.8,486.9 L472.4,485.4 L474.9,483.8 L477.5,482.3 L480.1,480.8 L482.7,479.3 L485.3,477.7 L487.8,476.1 L490.3,474.5 L492.9,472.9 L495.4,471.3 L498,469.7 L500.5,468.1 L503,466.5 L505.6,464.9 L508.1,463.3 L510.6,461.7 L513.1,460 L515.6,458.3 L518,456.5 L520.3,454.7 L522.7,452.8 L525,450.9 L527.3,449 L529.6,447.1 L532,445.3 L534.4,443.5 L536.9,441.9 L539.5,440.3 L542.1,438.8 L544.7,437.3 L547.3,435.8 L549.9,434.3 L552.5,432.8 L555,431.3 L557.4,429.5 L559.7,427.7 L561.9,425.6 L564,423.5 L566.1,421.3 L568.1,419.2 L570.2,417 L572.4,414.9 L574.6,412.9 L576.9,411 L579.3,409.2 L581.7,407.4 L584.1,405.6 L586.5,403.8 L588.9,401.9 L591.2,400.1 L593.6,398.3 L596,396.5 L598.5,394.8 L600.9,393 L603.3,391.2 L605.7,389.4 L608.1,387.7 L610.6,385.9 L613,384.1 L615.4,382.3 L617.8,380.6 L620.2,378.8 L622.6,376.9 L625,375.1 L627.3,373.2 L629.6,371.3 L631.9,369.4 L634.3,367.5 L636.6,365.6 L638.8,363.6 L641,361.5 L643,359.4 L644.9,357.1 L646.8,354.8 L648.7,352.5 L650.6,350.1 L652.5,347.8 L654.4,345.5 L656.3,343.2 L658.3,340.9 L660.3,338.7 L662.4,336.6 L664.6,334.5 L666.8,332.5 L669,330.5 L671.2,328.4 L673.3,326.3 L675.3,324.1 L677.3,321.8 L679.1,319.5 L681,317.1 L682.9,314.8 L684.8,312.5 L686.8,310.2 L688.9,308.2 L691.1,306.2 L693.5,304.3 L695.8,302.4 L698.1,300.6 L700.5,298.7 L702.8,296.8 L705,294.8 L707.2,292.7 L709.4,290.6 L711.5,288.5 L713.6,286.4 L715.7,284.3 L717.8,282.2 L720,280 L722.1,277.9 L724.2,275.8 L726.4,273.7 L728.5,271.6 L730.7,269.6 L732.9,267.5 L735.2,265.5 L737.4,263.5 L739.5,261.4 L741.5,259.3 L743.3,256.9 L744.9,254.4 L746.4,251.9 L748,249.4 L749.8,247 L751.7,244.7 L753.7,242.4 L755.6,240.1 L757.6,237.9 L759.6,235.6 L761.5,233.3 L763.5,231.1 L765.5,228.8 L767.4,226.5 L769.4,224.3 L771.4,222 L773.4,219.8 L775.4,217.6 L777.5,215.5 L779.7,213.4 L782,211.5 L784.3,209.6 L786.7,207.7 L789,205.8 L791.2,203.9 L793.4,201.8 L795.3,199.6 L797.2,197.3 L799.1,194.9 L801,192.6 L802.8,190.2 L804.8,187.9 L806.7,185.7 L808.7,183.4 L810.7,181.1 L812.6,178.9 L814.6,176.6 L816.6,174.3 L818.6,172.1 L820.6,169.9 L822.6,167.7 L824.7,165.6 L826.9,163.5 L829.2,161.5 L831.4,159.5 L833.5,157.4 L835.6,155.3 L837.6,153.1 L839.5,150.8 L841.3,148.4 L842.9,146.4 L842.9,146.4 L872.9,146.4 L869.4,147.1 L867.8,151.1 L866.2,155 L864.6,159 L863.1,163 L861.5,167 L859.9,170.9 L858.3,174.9 L856.8,178.9 L855.2,182.9 L853.6,186.8 L852.1,190.8 L850.5,194.8 L848.9,198.7 L847.3,202.7 L845.8,206.7 L844.2,210.7 L842.6,214.6 L841,218.6 L839.4,222.6 L837.8,226.6 L836.2,230.5 L834.6,234.5 L833,238.5 L831.4,242.4 L829.7,246.4 L828.1,250.4 L826.5,254.4 L824.8,258.3 L823.1,262.3 L821.5,266.3 L819.8,270.3 L818.1,274.2 L816.4,278.2 L814.7,282.2 L813,286.1 L811.2,290.1 L809.5,294.1 L807.7,298.1 L806,302 L804.2,306 L802.4,310 L800.6,314 L798.8,317.9 L796.9,321.9 L795.1,325.9 L793.2,329.8 L791.3,333.8 L789.4,337.8 L787.5,341.8 L785.5,345.7 L783.6,349.7 L781.6,353.7 L779.6,357.6 L777.6,361.6 L775.6,365.6 L773.5,369.6 L771.4,373.5 L769.3,377.5 L767.2,381.5 L765.1,385.5 L762.9,389.4 L760.7,393.4 L758.5,397.4 L756.3,401.3 L754,405.3 L751.8,409.3 L749.5,413.3 L747.1,417.2 L744.8,421.2 L742.4,425.2 L740,429.2 L737.6,433.1 L735.1,437.1 L732.6,441.1 L730.1,445 L727.6,449 L725,453 L722.4,457 L719.7,460.9 L717.1,464.9 L714.4,468.9 L711.7,472.9 L708.9,476.8 L706.1,480.8" fill="none" stroke="#727272" stroke-width="1.8" stroke-linejoin="round" stroke-linecap="round"/>
<path d="M288.3,2436.4 L291.3,2436 L294.2,2435.6 L297.2,2435.2 L300.2,2434.8 L303.2,2434.4 L306.1,2434 L309.1,2433.6 L312.1,2433.2 L315.1,2432.8 L318,2432.3 L321,2431.8 L323.9,2431.1 L326.8,2430.4 L329.7,2429.7 L332.6,2429 L335.5,2428.2 L338.4,2427.5 L341.4,2426.8 L344.3,2426.1 L347.2,2425.4 L350.1,2424.7 L353,2423.9 L355.9,2423.2 L358.8,2422.5 L361.8,2421.8 L364.7,2421.1 L367.6,2420.4 L370.5,2419.6 L373.4,2418.9 L376.3,2418 L379.1,2417.2 L382,2416.3 L384.9,2415.4 L387.7,2414.5 L390.6,2413.6 L393.5,2412.7 L396.3,2411.8 L399.2,2410.9 L402.1,2410.1 L404.9,2409.2 L407.8,2408.3 L410.7,2407.4 L413.5,2406.5 L416.4,2405.6 L419.2,2404.7 L422.1,2403.6 L424.9,2402.6 L427.6,2401.5 L430.4,2400.3 L433.2,2399.2 L436,2398.1 L438.8,2397 L441.6,2395.9 L444.4,2394.8 L447.2,2393.7 L449.9,2392.6 L452.7,2391.5 L455.5,2390.4 L458.3,2389.2 L461.1,2388.1 L463.9,2387 L466.7,2385.9 L469.4,2384.7 L472.2,2383.5 L474.9,2382.3 L477.6,2381 L480.3,2379.7 L483.1,2378.5 L485.8,2377.2 L488.5,2376 L491.2,2374.7 L494,2373.5 L496.7,2372.2 L499.4,2371 L502.1,2369.7 L504.9,2368.5 L507.6,2367.2 L510.3,2366 L513,2364.7 L515.7,2363.4 L518.4,2362 L521,2360.5 L523.5,2358.9 L526,2357.3 L528.6,2355.7 L531.1,2354.1 L533.7,2352.5 L536.2,2350.9 L538.8,2349.3 L541.3,2347.7 L543.8,2346.2 L546.4,2344.6 L548.9,2343 L551.5,2341.4 L554,2339.8 L556.6,2338.2 L559.1,2336.7 L561.7,2335.1 L564.3,2333.6 L566.9,2332 L569.4,2330.5 L572,2329 L574.6,2327.4 L577.2,2325.9 L579.7,2324.3 L582.3,2322.8 L584.9,2321.2 L587.5,2319.7 L590,2318.2 L592.6,2316.6 L595.2,2315 L597.7,2313.4 L600.2,2311.8 L602.7,2310.2 L605.3,2308.6 L607.8,2307 L610.3,2305.3 L612.8,2303.7 L615.3,2302.1 L617.9,2300.4 L620.4,2298.8 L622.8,2297.1 L625.2,2295.3 L627.5,2293.4 L629.9,2291.5 L632.2,2289.6 L634.5,2287.7 L636.9,2286 L639.5,2284.5 L642.2,2283.3 L645,2282.2 L647.8,2281.1 L650.6,2280 L653.3,2278.8 L655.8,2277.2 L658.3,2275.5 L660.7,2273.7 L663.1,2271.9 L665.5,2270.2 L668,2268.5 L670.5,2266.9 L673,2265.2 L675.6,2263.6 L678.1,2262 L680.6,2260.4 L683.1,2258.8 L685.7,2257.1 L688.2,2255.5 L690.7,2253.8 L693,2252 L695.3,2250.1 L697.5,2248 L699.7,2246 L701.9,2243.9 L704.1,2241.9 L706.3,2239.8 L708.5,2237.8 L710.7,2235.8 L712.9,2233.8 L715.2,2231.8 L717.4,2229.8 L719.7,2227.9 L722,2226 L724.4,2224.2 L726.8,2222.4 L729.2,2220.5 L731.5,2218.7 L733.8,2216.7 L736,2214.7 L738.2,2212.7 L740.4,2210.6 L742.7,2208.6 L744.9,2206.6 L747.1,2204.5 L749.3,2202.5 L751.5,2200.5 L753.7,2198.4 L755.8,2196.3 L757.9,2194.1 L760,2192 L762,2189.8 L764.1,2187.6 L766.2,2185.5 L768.2,2183.3 L770.3,2181.1 L772.5,2179.1 L774.7,2177.1 L777.1,2175.2 L779.4,2173.4 L781.8,2171.5 L784.2,2169.7 L786.5,2167.8 L788.8,2165.9 L791,2163.9 L793.2,2161.8 L795.3,2159.7 L797.4,2157.6 L799.6,2155.5 L801.7,2153.4 L803.9,2151.3 L806.1,2149.3 L808.3,2147.2 L810.4,2145.1 L812.6,2143.1 L814.8,2141 L816.9,2138.9 L819.1,2136.8 L821.2,2134.7 L823.3,2132.6 L825.4,2130.5 L827.6,2128.3 L829.7,2126.2 L831.8,2124.1 L833.9,2122 L836.1,2119.8 L838.2,2117.7 L840.3,2115.6 L842.4,2113.5 L844.5,2111.4 L846.7,2109.2 L848.8,2107.1 L850.9,2105 L853,2102.9 L855.1,2100.7 L857.3,2098.6 L859.4,2096.5 L861.5,2094.4 L863.6,2092.2 L865.7,2090.1 L867.8,2088 L870,2085.9 L872.1,2083.7 L874.2,2081.6 L876.3,2079.5 L878.3,2077.2 L880.2,2074.9 L882,2072.6 L883.9,2070.2 L885.7,2067.8 L887.5,2065.4 L889.3,2063 L891.2,2060.7 L893,2058.3 L894.8,2055.9 L896.7,2053.5 L898.5,2051.2 L900.3,2048.8 L902.2,2046.4 L904,2044 L905.8,2041.7 L907.7,2039.3 L909.5,2036.9 L911.3,2034.5 L913.2,2032.2 L915,2029.8 L916.9,2027.5 L918.8,2025.2 L920.9,2023 L922.9,2020.7 L924.9,2018.5 L926.9,2016.3 L928.9,2014.1 L931,2011.9 L933,2009.7 L935,2007.5 L937.1,2005.3 L939.2,2003.1 L941.3,2001 L943.4,1998.9 L945.5,1996.7 L947.6,1994.6 L949.7,1992.5 L951.9,1990.4 L954,1988.2 L956.1,1986.1 L958.1,1983.9 L960.1,1981.7 L962.1,1979.4 L964,1977.1 L966,1974.9 L967.9,1972.6 L969.8,1970.2 L971.6,1967.8 L973.4,1965.4 L975.1,1963 L976.9,1960.5 L978.6,1958.1 L980.4,1955.7 L982.2,1953.2 L983.9,1950.8 L985.7,1948.4 L987.4,1945.9 L989.2,1943.5 L990.9,1941.1 L992.7,1938.6 L994.4,1936.2 L996.2,1933.8 L998,1931.4 L999.8,1929 L1001.6,1926.6 L1003.4,1924.2 L1005.2,1921.8 L1007,1919.4 L1008.8,1917 L1010.6,1914.6 L1012.4,1912.2 L1014.2,1909.8 L1016,1907.4 L1017.9,1905 L1019.8,1902.7 L1021.7,1900.4 L1023.6,1898.1 L1025.5,1895.8 L1027.5,1893.5 L1029.4,1891.2 L1031.4,1888.9 L1033.3,1886.7 L1035.2,1884.4 L1037.2,1882.2 L1039.4,1880.2 L1041.9,1878.8 L1044.6,1877.7 L1047.4,1876.7 L1050.1,1875.5 L1052.7,1874 L1055.1,1872.3 L1057.5,1870.4 L1059.7,1868.4 L1061.6,1866.2 L1063.3,1863.7 L1065,1861.3 L1066.8,1858.8 L1068.5,1856.3 L1070.2,1853.9 L1071.9,1851.4 L1073.6,1848.9 L1075.3,1846.5 L1077,1844 L1078.7,1841.5 L1080.4,1839.1 L1082.1,1836.6 L1083.8,1834.1 L1085.5,1831.6 L1087.2,1829.2 L1089,1826.7 L1090.7,1824.3 L1092.5,1821.9 L1094.3,1819.5 L1096.1,1817.1 L1097.9,1814.7 L1099.6,1812.3 L1101.4,1809.9 L1103.2,1807.4 L1105,1805 L1106.8,1802.6 L1108.6,1800.2 L1110.4,1797.8 L1112.1,1795.4 L1114,1793 L1115.8,1790.6 L1117.7,1788.3 L1119.6,1786 L1121.5,1783.7 L1123.4,1781.4 L1125.3,1779.1 L1127.2,1776.7 L1129,1774.3 L1130.7,1771.8 L1132.3,1769.3 L1133.9,1766.8 L1135.5,1764.3 L1137.2,1761.7 L1138.8,1759.2 L1140.4,1756.7 L1142,1754.2 L1143.6,1751.6 L1145.3,1749.1 L1146.9,1746.6 L1148.5,1744.1 L1150.1,1741.5 L1151.7,1739 L1153.3,1736.5 L1155,1734 L1156.6,1731.4 L1158.2,1728.9 L1159.8,1726.4 L1161.4,1723.8 L1163,1721.3 L1164.6,1718.8 L1166.2,1716.2 L1167.9,1713.7 L1169.5,1711.2 L1171.1,1708.6 L1172.7,1706.1 L1174.3,1703.6 L1175.9,1701.1 L1177.5,1698.5 L1179.1,1696 L1180.7,1693.5 L1182.3,1690.9 L1184,1688.4 L1185.6,1685.9 L1187.2,1683.3 L1188.9,1680.9 L1190.6,1678.4 L1192.5,1676.1 L1194.4,1673.8 L1196.3,1671.4 L1198.1,1669 L1199.8,1666.6 L1201.4,1664 L1202.9,1661.5 L1204.5,1658.9 L1206,1656.3 L1207.5,1653.8 L1209.1,1651.2 L1210.6,1648.6 L1212.2,1646 L1213.7,1643.5 L1215.3,1640.9 L1216.8,1638.3 L1218.4,1635.7 L1219.9,1633.2 L1221.5,1630.6 L1223.2,1628.1 L1224.9,1625.7 L1226.7,1623.3 L1228.4,1620.9 L1230.2,1618.4 L1232,1616 L1233.8,1613.6 L1235.5,1611.2 L1237.3,1608.8 L1239.1,1606.3 L1240.9,1603.9 L1242.6,1601.5 L1244.5,1599.1 L1246.3,1596.8 L1248.2,1594.4 L1249.9,1592 L1251.5,1589.5 L1252.9,1586.8 L1254.2,1584.1 L1255.4,1581.4 L1256.7,1578.7 L1257.9,1575.9 L1259.1,1573.2 L1260.4,1570.5 L1261.8,1567.8 L1263.3,1565.2 L1264.8,1562.6 L1266.3,1560 L1267.8,1557.5 L1269.3,1554.9 L1270.8,1552.3 L1272.4,1549.7 L1273.9,1547.1 L1275.4,1544.5 L1277,1542 L1278.6,1539.4 L1280.2,1536.9 L1281.8,1534.3 L1283.4,1531.8 L1285.1,1529.4 L1286.9,1527 L1288.7,1524.6 L1290.6,1522.2 L1292.4,1519.9 L1294.3,1517.5 L1296.1,1515.2 L1298.1,1512.9 L1300.2,1510.7 L1302.3,1508.7 L1304.5,1506.6 L1306.7,1504.6 L1308.9,1502.5 L1311.1,1500.5 L1311.7,1499.9 L1311.7,1499.9 L1337,1499.9 L1337.1,1500.4 L1336.2,1504.4 L1335.2,1508.4 L1334.3,1512.4 L1333.4,1516.4 L1332.5,1520.4 L1331.5,1524.4 L1330.6,1528.3 L1329.7,1532.3 L1328.8,1536.3 L1327.8,1540.3 L1326.9,1544.3 L1326,1548.3 L1325.1,1552.3 L1324.1,1556.3 L1323.2,1560.3 L1322.3,1564.3 L1321.4,1568.3 L1320.4,1572.3 L1319.5,1576.2 L1318.6,1580.2 L1317.7,1584.2 L1316.7,1588.2 L1315.8,1592.2 L1314.9,1596.2 L1314,1600.2 L1313,1604.2 L1312.1,1608.2 L1311.2,1612.2 L1310.3,1616.2 L1309.3,1620.2 L1308.4,1624.2 L1307.5,1628.1 L1306.5,1632.1 L1305.6,1636.1 L1304.7,1640.1 L1303.7,1644.1 L1302.8,1648.1 L1301.9,1652.1 L1300.9,1656.1 L1300,1660.1 L1299.1,1664.1 L1298.1,1668.1 L1297.2,1672.1 L1296.2,1676 L1295.3,1680 L1294.4,1684 L1293.4,1688 L1292.5,1692 L1291.5,1696 L1290.6,1700 L1289.6,1704 L1288.7,1708 L1287.7,1712 L1286.8,1716 L1285.8,1720 L1284.9,1723.9 L1283.9,1727.9 L1282.9,1731.9 L1282,1735.9 L1281,1739.9 L1280.1,1743.9 L1279.1,1747.9 L1278.1,1751.9 L1277.2,1755.9 L1276.2,1759.9 L1275.2,1763.9 L1274.2,1767.9 L1273.3,1771.9 L1272.3,1775.8 L1271.3,1779.8 L1270.3,1783.8 L1269.3,1787.8 L1268.4,1791.8 L1267.4,1795.8 L1266.4,1799.8 L1265.4,1803.8 L1264.4,1807.8 L1263.4,1811.8 L1262.4,1815.8 L1261.4,1819.8 L1260.4,1823.7 L1259.4,1827.7 L1258.4,1831.7 L1257.4,1835.7 L1256.4,1839.7 L1255.4,1843.7 L1254.4,1847.7 L1253.3,1851.7 L1252.3,1855.7 L1251.3,1859.7 L1250.3,1863.7 L1249.2,1867.7 L1248.2,1871.7 L1247.2,1875.6 L1246.1,1879.6 L1245.1,1883.6 L1244.1,1887.6 L1243,1891.6 L1242,1895.6 L1240.9,1899.6 L1239.9,1903.6 L1238.8,1907.6 L1237.7,1911.6 L1236.7,1915.6 L1235.6,1919.6 L1234.6,1923.5 L1233.5,1927.5 L1232.4,1931.5 L1231.3,1935.5 L1230.2,1939.5 L1229.2,1943.5 L1228.1,1947.5 L1227,1951.5 L1225.9,1955.5 L1224.8,1959.5 L1223.7,1963.5 L1222.6,1967.5 L1221.5,1971.4 L1220.4,1975.4 L1219.3,1979.4 L1218.1,1983.4 L1217,1987.4 L1215.9,1991.4 L1214.8,1995.4 L1213.6,1999.4 L1212.5,2003.4 L1211.4,2007.4 L1210.2,2011.4 L1209.1,2015.4 L1207.9,2019.4 L1206.8,2023.3 L1205.6,2027.3 L1204.4,2031.3 L1203.3,2035.3 L1202.1,2039.3 L1200.9,2043.3 L1199.8,2047.3 L1198.6,2051.3 L1197.4,2055.3 L1196.2,2059.3 L1195,2063.3 L1193.8,2067.3 L1192.6,2071.2 L1191.4,2075.2 L1190.2,2079.2 L1189,2083.2 L1187.7,2087.2 L1186.5,2091.2 L1185.3,2095.2 L1184.1,2099.2 L1182.8,2103.2 L1181.6,2107.2 L1180.3,2111.2 L1179.1,2115.2 L1177.8,2119.2 L1176.6,2123.1 L1175.3,2127.1 L1174,2131.1 L1172.7,2135.1 L1171.5,2139.1 L1170.2,2143.1 L1168.9,2147.1 L1167.6,2151.1 L1166.3,2155.1 L1165,2159.1 L1163.7,2163.1 L1162.4,2167.1 L1161,2171 L1159.7,2175 L1158.4,2179 L1157,2183 L1155.7,2187 L1154.4,2191 L1153,2195 L1151.7,2199 L1150.3,2203 L1148.9,2207 L1147.5,2211 L1146.2,2215 L1144.8,2218.9 L1143.4,2222.9 L1142,2226.9 L1140.6,2230.9 L1139.2,2234.9 L1137.8,2238.9 L1136.4,2242.9 L1135,2246.9 L1133.5,2250.9 L1132.1,2254.9 L1130.6,2258.9 L1129.2,2262.9 L1127.8,2266.9 L1126.3,2270.8 L1124.8,2274.8 L1123.4,2278.8 L1121.9,2282.8 L1120.4,2286.8 L1118.9,2290.8 L1117.4,2294.8 L1115.9,2298.8 L1114.4,2302.8 L1112.9,2306.8 L1111.4,2310.8 L1109.9,2314.8 L1108.3,2318.7 L1106.8,2322.7 L1105.3,2326.7 L1103.7,2330.7 L1102.2,2334.7 L1100.6,2338.7 L1099,2342.7" fill="none" stroke="#1a1a1a" stroke-width="3.2" stroke-linejoin="round" stroke-linecap="round"/>
<path d="M288.3,2436.4 L291.3,2436 L294.3,2435.7 L297.2,2435.3 L300.2,2434.9 L303.2,2434.6 L306.2,2434.2 L309.1,2433.8 L312.1,2433.5 L315.1,2433.1 L318.1,2432.6 L321,2432.1 L323.9,2431.4 L326.8,2430.7 L329.8,2430 L332.7,2429.3 L335.6,2428.6 L338.5,2427.8 L341.4,2427.1 L344.3,2426.4 L347.2,2425.7 L350.2,2425 L353.1,2424.3 L356,2423.6 L358.9,2422.9 L361.8,2422.2 L364.7,2421.4 L367.6,2420.7 L370.5,2420 L373.5,2419.2 L376.3,2418.4 L379.2,2417.6 L382.1,2416.7 L385,2415.9 L387.8,2415 L390.7,2414.2 L393.6,2413.3 L396.5,2412.5 L399.4,2411.6 L402.2,2410.8 L405.1,2409.9 L408,2409.1 L410.9,2408.2 L413.7,2407.4 L416.6,2406.5 L419.5,2405.6 L422.3,2404.6 L425.1,2403.6 L427.9,2402.5 L430.7,2401.4 L433.5,2400.4 L436.3,2399.3 L439.1,2398.2 L441.9,2397.2 L444.7,2396.1 L447.5,2395 L450.3,2394 L453.2,2392.9 L456,2391.8 L458.8,2390.8 L461.6,2389.7 L464.4,2388.6 L467.2,2387.6 L469.9,2386.4 L472.7,2385.3 L475.5,2384.1 L478.2,2382.9 L481,2381.7 L483.7,2380.5 L486.5,2379.3 L489.2,2378.1 L492,2376.9 L494.7,2375.7 L497.5,2374.5 L500.2,2373.3 L503,2372.1 L505.7,2371 L508.5,2369.8 L511.2,2368.6 L514,2367.4 L516.8,2366.2 L519.5,2365 L522.3,2363.8 L525,2362.6 L527.7,2361.4 L530.5,2360.1 L533.2,2358.8 L535.9,2357.5 L538.6,2356.2 L541.3,2354.9 L544,2353.6 L546.7,2352.3 L549.4,2351 L552.1,2349.7 L554.8,2348.4 L557.5,2347.1 L560.2,2345.8 L562.9,2344.5 L565.6,2343.2 L568.3,2341.9 L571,2340.6 L573.7,2339.3 L576.4,2338 L579.1,2336.6 L581.7,2335.1 L584.3,2333.7 L587,2332.2 L589.6,2330.8 L592.2,2329.4 L594.8,2327.9 L597.5,2326.5 L600.1,2325 L602.7,2323.6 L605.4,2322.2 L608,2320.7 L610.6,2319.3 L613.2,2317.8 L615.7,2316.2 L618.2,2314.4 L620.6,2312.6 L623,2310.8 L625.4,2309 L627.8,2307.2 L630.2,2305.4 L632.6,2303.6 L634.9,2301.7 L637.2,2299.8 L639.5,2297.9 L641.8,2296 L644.1,2294.1 L646.4,2292.1 L648.8,2290.2 L651.1,2288.3 L653.4,2286.4 L655.7,2284.5 L658,2282.5 L660.3,2280.6 L662.6,2278.7 L665,2276.9 L667.4,2275.1 L669.8,2273.3 L672.2,2271.5 L674.6,2269.8 L677,2268 L679.5,2266.2 L681.9,2264.4 L684.3,2262.7 L686.7,2260.9 L689.1,2259.1 L691.5,2257.3 L693.9,2255.4 L696.2,2253.5 L698.4,2251.5 L700.7,2249.6 L703,2247.6 L705.2,2245.7 L707.5,2243.7 L709.8,2241.8 L712.1,2239.8 L714.4,2237.9 L716.7,2235.9 L719,2234.1 L721.4,2232.2 L723.8,2230.5 L726.3,2228.8 L728.8,2227.1 L731.2,2225.4 L733.7,2223.7 L736.1,2221.9 L738.3,2219.9 L740.5,2217.9 L742.7,2215.8 L744.8,2213.7 L747,2211.6 L749.1,2209.5 L751.3,2207.4 L753.5,2205.4 L755.6,2203.3 L757.8,2201.2 L759.9,2199.1 L762.1,2197 L764.3,2195 L766.6,2193 L768.9,2191.1 L771.2,2189.2 L773.5,2187.3 L775.8,2185.4 L778.1,2183.4 L780.4,2181.5 L782.7,2179.6 L785,2177.7 L787.3,2175.8 L789.6,2173.9 L791.9,2171.9 L794.2,2170 L796.5,2168.1 L798.8,2166.1 L801.1,2164.2 L803.4,2162.3 L805.7,2160.3 L808,2158.4 L810.3,2156.5 L812.6,2154.5 L814.9,2152.6 L817.1,2150.6 L819.4,2148.6 L821.6,2146.7 L823.9,2144.7 L826.2,2142.7 L828.4,2140.7 L830.7,2138.7 L832.8,2136.7 L835,2134.6 L837,2132.4 L839.1,2130.2 L841.2,2128 L843.2,2125.9 L845.3,2123.7 L847.3,2121.5 L849.4,2119.3 L851.5,2117.1 L853.5,2115 L855.6,2112.8 L857.6,2110.6 L859.7,2108.4 L861.7,2106.2 L863.8,2104.1 L865.9,2101.9 L867.9,2099.7 L869.9,2097.4 L871.9,2095.2 L873.8,2092.9 L875.8,2090.6 L877.8,2088.4 L879.7,2086.1 L881.7,2083.8 L883.7,2081.6 L885.6,2079.3 L887.6,2077 L889.6,2074.8 L891.5,2072.5 L893.5,2070.3 L895.5,2068 L897.4,2065.7 L899.4,2063.5 L901.4,2061.2 L903.3,2058.9 L905.3,2056.7 L907.4,2054.5 L909.5,2052.4 L911.7,2050.4 L914,2048.4 L916.2,2046.4 L918.4,2044.3 L920.6,2042.3 L922.9,2040.3 L925.1,2038.3 L927.4,2036.4 L929.8,2034.7 L932.4,2033.2 L935.1,2031.8 L937.7,2030.4 L940.1,2028.7 L942.3,2026.8 L944.4,2024.6 L946.4,2022.4 L948.4,2020.2 L950.4,2017.9 L952.4,2015.7 L954.4,2013.5 L956.4,2011.3 L958.5,2009 L960.5,2006.8 L962.5,2004.6 L964.5,2002.3 L966.5,2000.1 L968.5,1997.9 L970.5,1995.6 L972.5,1993.4 L974.6,1991.3 L976.8,1989.2 L979,1987.3 L981.3,1985.4 L983.7,1983.5 L986,1981.6 L988.3,1979.6 L990.6,1977.7 L992.9,1975.8 L995.2,1973.9 L997.4,1971.8 L999.4,1969.7 L1001.4,1967.4 L1003.4,1965.2 L1005.4,1962.9 L1007.4,1960.7 L1009.4,1958.4 L1011.3,1956.2 L1013.3,1953.9 L1015.3,1951.6 L1017.3,1949.4 L1019.3,1947.1 L1021.2,1944.9 L1023.2,1942.6 L1025.2,1940.4 L1027.2,1938.1 L1029.2,1935.9 L1031.1,1933.6 L1033.1,1931.4 L1035.1,1929.1 L1037.1,1926.9 L1039,1924.6 L1040.9,1922.3 L1042.8,1919.9 L1044.7,1917.6 L1046.5,1915.2 L1048.4,1912.9 L1050.3,1910.5 L1052.1,1908.2 L1054,1905.8 L1055.8,1903.5 L1057.7,1901.1 L1059.6,1898.8 L1061.4,1896.4 L1063.3,1894.1 L1065.2,1891.7 L1067.1,1889.4 L1068.9,1887 L1070.8,1884.7 L1072.7,1882.3 L1074.6,1880 L1076.4,1877.7 L1078.3,1875.3 L1080.2,1873 L1082.1,1870.6 L1083.9,1868.3 L1085.8,1865.9 L1087.7,1863.6 L1089.5,1861.3 L1091.4,1858.9 L1093.2,1856.5 L1095,1854.1 L1096.8,1851.7 L1098.5,1849.3 L1100.3,1846.8 L1102.1,1844.4 L1103.9,1842 L1105.7,1839.6 L1107.5,1837.2 L1109.2,1834.8 L1111,1832.4 L1112.8,1830 L1114.6,1827.5 L1116.4,1825.1 L1118.2,1822.7 L1119.9,1820.3 L1121.7,1817.9 L1123.4,1815.4 L1125.2,1813 L1126.9,1810.5 L1128.6,1808 L1130.3,1805.6 L1132,1803.1 L1133.7,1800.7 L1135.4,1798.2 L1137.1,1795.7 L1138.8,1793.3 L1140.6,1790.8 L1142.3,1788.3 L1144,1785.9 L1145.7,1783.4 L1147.4,1780.9 L1149.1,1778.5 L1150.9,1776.1 L1152.7,1773.7 L1154.5,1771.3 L1156.4,1768.9 L1158.2,1766.6 L1160.1,1764.2 L1161.9,1761.8 L1163.7,1759.5 L1165.6,1757.1 L1167.4,1754.7 L1169.3,1752.4 L1171.1,1750 L1172.8,1747.5 L1174.5,1745.1 L1176.2,1742.6 L1177.9,1740.1 L1179.5,1737.6 L1181.2,1735.1 L1182.9,1732.6 L1184.5,1730.1 L1186.2,1727.6 L1187.9,1725.1 L1189.5,1722.6 L1191.2,1720.1 L1192.9,1717.6 L1194.5,1715.1 L1196.2,1712.6 L1197.9,1710.1 L1199.5,1707.7 L1201.2,1705.2 L1203,1702.7 L1204.7,1700.3 L1206.4,1697.8 L1208.2,1695.4 L1209.9,1692.9 L1211.6,1690.5 L1213.3,1688 L1215.1,1685.6 L1216.8,1683.1 L1218.4,1680.6 L1220,1678.1 L1221.5,1675.4 L1222.9,1672.8 L1224.4,1670.2 L1225.8,1667.6 L1227.3,1664.9 L1228.7,1662.3 L1230.1,1659.7 L1231.6,1657 L1233,1654.4 L1234.5,1651.8 L1235.9,1649.1 L1237.4,1646.5 L1238.8,1643.9 L1240.2,1641.3 L1241.7,1638.6 L1243.2,1636.1 L1244.9,1633.5 L1246.6,1631.1 L1248.4,1628.7 L1250.1,1626.3 L1251.9,1623.8 L1253.7,1621.4 L1255.4,1619 L1257.2,1616.6 L1259,1614.2 L1260.8,1611.7 L1262.5,1609.3 L1264.2,1606.8 L1265.9,1604.3 L1267.4,1601.7 L1268.9,1599.1 L1270.4,1596.5 L1271.9,1593.9 L1273.4,1591.3 L1274.8,1588.7 L1276.3,1586.1 L1277.8,1583.5 L1279.3,1580.9 L1280.8,1578.3 L1282.3,1575.7 L1283.8,1573.1 L1285.3,1570.5 L1286.8,1567.9 L1288.3,1565.3 L1289.7,1562.7 L1291.2,1560.1 L1292.7,1557.5 L1294.2,1554.9 L1295.8,1552.3 L1297.4,1549.8 L1299,1547.3 L1300.7,1544.8 L1302.4,1542.3 L1304.1,1539.8 L1305.8,1537.4 L1307.5,1534.9 L1309.1,1532.4 L1310.8,1529.9 L1312.5,1527.4 L1314.2,1524.9 L1315.9,1522.5 L1317.6,1520 L1319.2,1517.5 L1320.9,1515 L1322.6,1512.5 L1324.3,1510.1 L1326,1507.6 L1327.7,1505.1 L1329.3,1502.7 L1330.9,1500.3 L1331.2,1499.9 L1331.2,1499.9 L1379.9,1499.9 L1380,1500.4 L1379,1504.4 L1378.1,1508.4 L1377.2,1512.4 L1376.3,1516.4 L1375.4,1520.4 L1374.4,1524.4 L1373.5,1528.3 L1372.6,1532.3 L1371.7,1536.3 L1370.8,1540.3 L1369.9,1544.3 L1369,1548.3 L1368.1,1552.3 L1367.2,1556.3 L1366.4,1560.3 L1365.5,1564.3 L1364.6,1568.3 L1363.7,1572.3 L1362.8,1576.2 L1361.9,1580.2 L1361,1584.2 L1360.2,1588.2 L1359.3,1592.2 L1358.4,1596.2 L1357.5,1600.2 L1356.7,1604.2 L1355.8,1608.2 L1354.9,1612.2 L1354.1,1616.2 L1353.2,1620.2 L1352.3,1624.2 L1351.5,1628.1 L1350.6,1632.1 L1349.7,1636.1 L1348.9,1640.1 L1348,1644.1 L1347.1,1648.1 L1346.3,1652.1 L1345.4,1656.1 L1344.5,1660.1 L1343.7,1664.1 L1342.8,1668.1 L1341.9,1672.1 L1341.1,1676 L1340.2,1680 L1339.4,1684 L1338.5,1688 L1337.6,1692 L1336.8,1696 L1335.9,1700 L1335,1704 L1334.2,1708 L1333.3,1712 L1332.4,1716 L1331.6,1720 L1330.7,1723.9 L1329.8,1727.9 L1329,1731.9 L1328.1,1735.9 L1327.2,1739.9 L1326.3,1743.9 L1325.5,1747.9 L1324.6,1751.9 L1323.7,1755.9 L1322.8,1759.9 L1322,1763.9 L1321.1,1767.9 L1320.2,1771.9 L1319.3,1775.8 L1318.4,1779.8 L1317.5,1783.8 L1316.6,1787.8 L1315.7,1791.8 L1314.8,1795.8 L1313.9,1799.8 L1313,1803.8 L1312.1,1807.8 L1311.2,1811.8 L1310.3,1815.8 L1309.4,1819.8 L1308.5,1823.7 L1307.6,1827.7 L1306.7,1831.7 L1305.7,1835.7 L1304.8,1839.7 L1303.9,1843.7 L1303,1847.7 L1302,1851.7 L1301.1,1855.7 L1300.2,1859.7 L1299.2,1863.7 L1298.3,1867.7 L1297.3,1871.7 L1296.4,1875.6 L1295.4,1879.6 L1294.4,1883.6 L1293.5,1887.6 L1292.5,1891.6 L1291.5,1895.6 L1290.6,1899.6 L1289.6,1903.6 L1288.6,1907.6 L1287.6,1911.6 L1286.6,1915.6 L1285.6,1919.6 L1284.6,1923.5 L1283.6,1927.5 L1282.6,1931.5 L1281.6,1935.5 L1280.6,1939.5 L1279.5,1943.5 L1278.5,1947.5 L1277.5,1951.5 L1276.4,1955.5 L1275.4,1959.5 L1274.3,1963.5 L1273.3,1967.5 L1272.2,1971.4 L1271.2,1975.4 L1270.1,1979.4 L1269,1983.4 L1267.9,1987.4 L1266.9,1991.4 L1265.8,1995.4 L1264.7,1999.4 L1263.6,2003.4 L1262.5,2007.4 L1261.3,2011.4 L1260.2,2015.4 L1259.1,2019.4 L1258,2023.3 L1256.8,2027.3 L1255.7,2031.3 L1254.5,2035.3 L1253.4,2039.3 L1252.2,2043.3 L1251,2047.3 L1249.8,2051.3 L1248.7,2055.3 L1247.5,2059.3 L1246.3,2063.3 L1245.1,2067.3 L1243.9,2071.2 L1242.6,2075.2 L1241.4,2079.2 L1240.2,2083.2 L1238.9,2087.2 L1237.7,2091.2 L1236.4,2095.2 L1235.2,2099.2 L1233.9,2103.2 L1232.6,2107.2 L1231.3,2111.2 L1230,2115.2 L1228.7,2119.2 L1227.4,2123.1 L1226.1,2127.1 L1224.8,2131.1 L1223.5,2135.1 L1222.1,2139.1 L1220.8,2143.1 L1219.4,2147.1 L1218,2151.1 L1216.7,2155.1 L1215.3,2159.1 L1213.9,2163.1 L1212.5,2167.1 L1211.1,2171 L1209.7,2175 L1208.2,2179 L1206.8,2183 L1205.4,2187 L1203.9,2191 L1202.4,2195 L1201,2199 L1199.5,2203 L1198,2207 L1196.5,2211 L1195,2215 L1193.5,2218.9 L1191.9,2222.9 L1190.4,2226.9 L1188.9,2230.9 L1187.3,2234.9 L1185.7,2238.9 L1184.2,2242.9 L1182.6,2246.9 L1181,2250.9 L1179.4,2254.9 L1177.7,2258.9 L1176.1,2262.9 L1174.5,2266.9 L1172.8,2270.8 L1171.2,2274.8 L1169.5,2278.8 L1167.8,2282.8 L1166.1,2286.8 L1164.4,2290.8 L1162.7,2294.8 L1161,2298.8 L1159.3,2302.8 L1157.5,2306.8 L1155.7,2310.8 L1154,2314.8 L1152.2,2318.7 L1150.4,2322.7 L1148.6,2326.7 L1146.8,2330.7 L1145,2334.7 L1143.1,2338.7 L1141.3,2342.7" fill="none" stroke="#ff1a1a" stroke-width="3.2" stroke-linejoin="round" stroke-linecap="round"/>
<path d="M288.3,2436.4 L291.3,2436.1 L294.3,2435.7 L297.2,2435.4 L300.2,2435 L303.2,2434.7 L306.2,2434.3 L309.2,2434 L312.1,2433.6 L315.1,2433.2 L318.1,2432.8 L321,2432.3 L323.9,2431.6 L326.9,2430.9 L329.8,2430.2 L332.7,2429.5 L335.6,2428.8 L338.5,2428.1 L341.4,2427.4 L344.4,2426.7 L347.3,2426 L350.2,2425.2 L353.1,2424.5 L356,2423.8 L358.9,2423.1 L361.9,2422.4 L364.8,2421.7 L367.7,2421 L370.6,2420.3 L373.5,2419.6 L376.4,2418.9 L379.3,2418.2 L382.3,2417.5 L385.2,2416.8 L388.1,2416.1 L391,2415.4 L393.9,2414.7 L396.9,2414 L399.8,2413.3 L402.7,2412.6 L405.6,2411.9 L408.5,2411.2 L411.4,2410.5 L414.4,2409.8 L417.3,2409.1 L420.1,2408.3 L423,2407.3 L425.8,2406.3 L428.6,2405.2 L431.4,2404.2 L434.2,2403.1 L437,2402 L439.8,2401 L442.6,2399.9 L445.4,2398.8 L448.2,2397.8 L451,2396.7 L453.8,2395.6 L456.7,2394.6 L459.5,2393.5 L462.3,2392.4 L465.1,2391.4 L467.9,2390.3 L470.6,2389.1 L473.4,2388 L476.1,2386.8 L478.9,2385.6 L481.6,2384.4 L484.4,2383.2 L487.1,2382 L489.9,2380.8 L492.6,2379.6 L495.4,2378.4 L498.1,2377.2 L500.9,2376 L503.6,2374.8 L506.4,2373.6 L509.2,2372.4 L511.9,2371.2 L514.7,2370 L517.4,2368.8 L520.2,2367.6 L522.9,2366.4 L525.6,2365.2 L528.4,2363.9 L531.1,2362.6 L533.7,2361.3 L536.4,2360 L539.1,2358.6 L541.8,2357.3 L544.5,2355.9 L547.2,2354.6 L549.9,2353.3 L552.5,2351.9 L555.2,2350.6 L557.9,2349.3 L560.6,2347.9 L563.3,2346.6 L566,2345.2 L568.7,2343.9 L571.3,2342.6 L574,2341.2 L576.7,2339.9 L579.4,2338.5 L582,2337.1 L584.7,2335.7 L587.3,2334.3 L590,2332.9 L592.6,2331.5 L595.3,2330.1 L597.9,2328.7 L600.6,2327.3 L603.2,2325.9 L605.9,2324.5 L608.6,2323.1 L611.2,2321.7 L613.8,2320.2 L616.4,2318.7 L618.9,2317 L621.4,2315.4 L623.9,2313.7 L626.4,2312 L628.8,2310.3 L631.3,2308.7 L633.8,2307 L636.3,2305.3 L638.8,2303.6 L641.3,2301.9 L643.8,2300.3 L646.3,2298.6 L648.7,2296.9 L651.2,2295.2 L653.7,2293.5 L656.2,2291.8 L658.6,2290.1 L661.1,2288.4 L663.5,2286.7 L666,2284.9 L668.5,2283.2 L670.9,2281.5 L673.4,2279.8 L675.8,2278 L678.3,2276.3 L680.7,2274.6 L683.2,2272.9 L685.6,2271.2 L688.1,2269.4 L690.6,2267.7 L693,2266 L695.5,2264.2 L697.9,2262.5 L700.3,2260.8 L702.8,2259 L705.2,2257.3 L707.7,2255.6 L710.1,2253.8 L712.6,2252.1 L715,2250.3 L717.5,2248.6 L719.9,2246.8 L722.3,2245.1 L724.7,2243.3 L727.1,2241.5 L729.6,2239.7 L732,2238 L734.4,2236.2 L736.8,2234.4 L739.2,2232.6 L741.6,2230.8 L744,2229 L746.4,2227.2 L748.8,2225.4 L751.2,2223.6 L753.6,2221.9 L756,2220.1 L758.4,2218.3 L760.9,2216.5 L763.3,2214.7 L765.7,2212.9 L768.1,2211.1 L770.5,2209.3 L772.9,2207.5 L775.3,2205.7 L777.6,2203.8 L780,2202 L782.3,2200 L784.5,2198.1 L786.8,2196.1 L789,2194.1 L791.3,2192.1 L793.5,2190.1 L795.8,2188.1 L798,2186.1 L800.3,2184.2 L802.5,2182.2 L804.8,2180.2 L807,2178.2 L809.3,2176.2 L811.5,2174.2 L813.8,2172.2 L816,2170.3 L818.3,2168.3 L820.5,2166.3 L822.8,2164.3 L825,2162.3 L827.3,2160.3 L829.5,2158.4 L831.8,2156.4 L834,2154.4 L836.3,2152.4 L838.6,2150.5 L840.9,2148.6 L843.3,2146.8 L845.7,2145 L848.1,2143.2 L850.5,2141.4 L852.9,2139.6 L855.4,2138 L858,2136.6 L860.7,2135.2 L863.4,2133.9 L866.1,2132.5 L868.6,2131 L871.1,2129.3 L873.3,2127.4 L875.5,2125.3 L877.7,2123.3 L879.9,2121.2 L882.1,2119.1 L884.2,2117.1 L886.4,2115 L888.6,2112.9 L890.7,2110.9 L892.9,2108.8 L895.1,2106.7 L897.3,2104.7 L899.4,2102.6 L901.6,2100.5 L903.8,2098.5 L906,2096.4 L908.1,2094.3 L910.3,2092.2 L912.4,2090.1 L914.6,2088 L916.7,2085.9 L918.8,2083.8 L921,2081.7 L923.1,2079.6 L925.2,2077.4 L927.3,2075.3 L929.5,2073.2 L931.6,2071.1 L933.7,2069 L935.8,2066.9 L937.9,2064.7 L940,2062.6 L942,2060.3 L944,2058.1 L945.9,2055.8 L947.9,2053.5 L949.8,2051.2 L951.8,2048.9 L953.7,2046.7 L955.7,2044.4 L957.6,2042.1 L959.6,2039.8 L961.5,2037.5 L963.5,2035.3 L965.5,2033.1 L967.6,2030.9 L969.6,2028.7 L971.7,2026.5 L973.7,2024.3 L975.8,2022.2 L977.9,2020 L979.9,2017.8 L982,2015.6 L984,2013.4 L986.1,2011.2 L988.2,2009.1 L990.2,2006.9 L992.3,2004.7 L994.3,2002.5 L996.3,2000.2 L998.2,1997.9 L1000.1,1995.6 L1002,1993.3 L1004,1991 L1005.9,1988.7 L1007.8,1986.4 L1009.7,1984.1 L1011.6,1981.8 L1013.6,1979.5 L1015.5,1977.2 L1017.4,1974.9 L1019.3,1972.6 L1021.2,1970.3 L1023.2,1968 L1025.1,1965.7 L1027,1963.4 L1028.9,1961 L1030.8,1958.7 L1032.7,1956.4 L1034.6,1954 L1036.3,1951.6 L1038.1,1949.2 L1039.8,1946.7 L1041.6,1944.3 L1043.3,1941.9 L1045,1939.4 L1046.8,1937 L1048.5,1934.5 L1050.3,1932.1 L1052,1929.6 L1053.7,1927.2 L1055.5,1924.7 L1057.2,1922.3 L1059,1919.9 L1060.9,1917.5 L1062.8,1915.3 L1064.8,1913 L1066.8,1910.8 L1068.8,1908.6 L1070.8,1906.3 L1072.8,1904.1 L1074.8,1901.8 L1076.8,1899.6 L1078.8,1897.4 L1080.8,1895.1 L1082.8,1892.9 L1084.8,1890.7 L1086.8,1888.4 L1088.8,1886.2 L1090.8,1884 L1092.8,1881.7 L1094.8,1879.5 L1096.8,1877.2 L1098.7,1874.9 L1100.6,1872.6 L1102.4,1870.2 L1104.1,1867.8 L1105.9,1865.3 L1107.7,1862.9 L1109.5,1860.5 L1111.2,1858.1 L1113,1855.7 L1114.8,1853.2 L1116.5,1850.8 L1118.3,1848.4 L1120.1,1846 L1121.8,1843.5 L1123.6,1841.1 L1125.4,1838.7 L1127.2,1836.3 L1128.9,1833.9 L1130.7,1831.4 L1132.5,1829 L1134.3,1826.7 L1136.2,1824.3 L1138.1,1822 L1140,1819.7 L1141.9,1817.3 L1143.8,1815 L1145.7,1812.7 L1147.6,1810.4 L1149.5,1808 L1151.3,1805.7 L1153.2,1803.3 L1154.9,1800.9 L1156.5,1798.4 L1158.1,1795.8 L1159.8,1793.3 L1161.4,1790.8 L1163,1788.3 L1164.6,1785.7 L1166.2,1783.2 L1167.9,1780.7 L1169.5,1778.2 L1171.1,1775.6 L1172.7,1773.1 L1174.3,1770.6 L1175.9,1768 L1177.6,1765.5 L1179.3,1763.1 L1181,1760.6 L1182.8,1758.2 L1184.6,1755.8 L1186.4,1753.4 L1188.2,1751 L1189.9,1748.6 L1191.7,1746.1 L1193.5,1743.7 L1195.3,1741.3 L1197.1,1738.9 L1198.8,1736.5 L1200.6,1734.1 L1202.4,1731.6 L1204.1,1729.2 L1205.8,1726.7 L1207.6,1724.3 L1209.3,1721.9 L1211.1,1719.4 L1212.8,1717 L1214.6,1714.5 L1216.3,1712.1 L1218,1709.6 L1219.8,1707.2 L1221.5,1704.8 L1223.3,1702.3 L1225,1699.9 L1226.8,1697.4 L1228.5,1695 L1230.2,1692.6 L1232,1690.1 L1233.7,1687.7 L1235.5,1685.2 L1237.2,1682.8 L1238.9,1680.3 L1240.5,1677.8 L1242.1,1675.2 L1243.6,1672.7 L1245.2,1670.1 L1246.7,1667.5 L1248.3,1664.9 L1249.8,1662.4 L1251.4,1659.8 L1252.9,1657.2 L1254.5,1654.7 L1256,1652.1 L1257.6,1649.6 L1259.4,1647.2 L1261.3,1644.9 L1263.4,1642.7 L1265.5,1640.6 L1267.6,1638.5 L1269.7,1636.4 L1271.8,1634.2 L1273.9,1632 L1275.7,1629.7 L1277.5,1627.2 L1279.1,1624.8 L1280.8,1622.3 L1282.5,1619.8 L1284.1,1617.3 L1285.8,1614.8 L1287.5,1612.3 L1289.1,1609.8 L1290.8,1607.3 L1292.5,1604.8 L1294.1,1602.3 L1295.8,1599.8 L1297.4,1597.3 L1299.1,1594.8 L1300.8,1592.3 L1302.4,1589.8 L1304.1,1587.3 L1305.8,1584.8 L1307.4,1582.3 L1309.1,1579.8 L1310.8,1577.4 L1312.5,1574.9 L1314.2,1572.4 L1315.8,1569.9 L1317.5,1567.4 L1319.2,1565 L1320.9,1562.5 L1322.6,1560 L1324.3,1557.5 L1326,1555 L1327.6,1552.5 L1329.3,1550.1 L1331,1547.6 L1332.7,1545.1 L1334.4,1542.6 L1336.1,1540.1 L1337.8,1537.7 L1339.4,1535.2 L1341.1,1532.7 L1342.7,1530.2 L1344.2,1527.6 L1345.7,1525 L1347.1,1522.3 L1348.6,1519.7 L1350,1517.1 L1351.5,1514.4 L1352.9,1511.8 L1354.3,1509.2 L1355.8,1506.5 L1357.2,1503.9 L1358.6,1501.3 L1359.4,1499.9 L1359.4,1499.9 L1414,1499.9 L1414,1500.4 L1413.2,1504.4 L1412.4,1508.4 L1411.5,1512.4 L1410.7,1516.4 L1409.8,1520.4 L1409,1524.4 L1408.2,1528.3 L1407.3,1532.3 L1406.5,1536.3 L1405.7,1540.3 L1404.8,1544.3 L1404,1548.3 L1403.1,1552.3 L1402.3,1556.3 L1401.5,1560.3 L1400.6,1564.3 L1399.8,1568.3 L1398.9,1572.3 L1398.1,1576.2 L1397.3,1580.2 L1396.4,1584.2 L1395.6,1588.2 L1394.7,1592.2 L1393.9,1596.2 L1393,1600.2 L1392.2,1604.2 L1391.4,1608.2 L1390.5,1612.2 L1389.7,1616.2 L1388.8,1620.2 L1388,1624.2 L1387.1,1628.1 L1386.2,1632.1 L1385.4,1636.1 L1384.5,1640.1 L1383.7,1644.1 L1382.8,1648.1 L1382,1652.1 L1381.1,1656.1 L1380.2,1660.1 L1379.4,1664.1 L1378.5,1668.1 L1377.6,1672.1 L1376.8,1676 L1375.9,1680 L1375,1684 L1374.2,1688 L1373.3,1692 L1372.4,1696 L1371.5,1700 L1370.6,1704 L1369.8,1708 L1368.9,1712 L1368,1716 L1367.1,1720 L1366.2,1723.9 L1365.3,1727.9 L1364.4,1731.9 L1363.5,1735.9 L1362.6,1739.9 L1361.7,1743.9 L1360.8,1747.9 L1359.9,1751.9 L1359,1755.9 L1358,1759.9 L1357.1,1763.9 L1356.2,1767.9 L1355.3,1771.9 L1354.3,1775.8 L1353.4,1779.8 L1352.5,1783.8 L1351.5,1787.8 L1350.6,1791.8 L1349.7,1795.8 L1348.7,1799.8 L1347.8,1803.8 L1346.8,1807.8 L1345.9,1811.8 L1344.9,1815.8 L1343.9,1819.8 L1343,1823.7 L1342,1827.7 L1341,1831.7 L1340,1835.7 L1339.1,1839.7 L1338.1,1843.7 L1337.1,1847.7 L1336.1,1851.7 L1335.1,1855.7 L1334.1,1859.7 L1333.1,1863.7 L1332.1,1867.7 L1331.1,1871.7 L1330.1,1875.6 L1329,1879.6 L1328,1883.6 L1327,1887.6 L1325.9,1891.6 L1324.9,1895.6 L1323.9,1899.6 L1322.8,1903.6 L1321.8,1907.6 L1320.7,1911.6 L1319.6,1915.6 L1318.6,1919.6 L1317.5,1923.5 L1316.4,1927.5 L1315.4,1931.5 L1314.3,1935.5 L1313.2,1939.5 L1312.1,1943.5 L1311,1947.5 L1309.9,1951.5 L1308.8,1955.5 L1307.7,1959.5 L1306.5,1963.5 L1305.4,1967.5 L1304.3,1971.4 L1303.1,1975.4 L1302,1979.4 L1300.9,1983.4 L1299.7,1987.4 L1298.5,1991.4 L1297.4,1995.4 L1296.2,1999.4 L1295,2003.4 L1293.9,2007.4 L1292.7,2011.4 L1291.5,2015.4 L1290.3,2019.4 L1289.1,2023.3 L1287.9,2027.3 L1286.7,2031.3 L1285.4,2035.3 L1284.2,2039.3 L1283,2043.3 L1281.7,2047.3 L1280.5,2051.3 L1279.2,2055.3 L1278,2059.3 L1276.7,2063.3 L1275.4,2067.3 L1274.2,2071.2 L1272.9,2075.2 L1271.6,2079.2 L1270.3,2083.2 L1269,2087.2 L1267.7,2091.2 L1266.3,2095.2 L1265,2099.2 L1263.7,2103.2 L1262.3,2107.2 L1261,2111.2 L1259.6,2115.2 L1258.3,2119.2 L1256.9,2123.1 L1255.5,2127.1 L1254.2,2131.1 L1252.8,2135.1 L1251.4,2139.1 L1250,2143.1 L1248.6,2147.1 L1247.1,2151.1 L1245.7,2155.1 L1244.3,2159.1 L1242.8,2163.1 L1241.4,2167.1 L1239.9,2171 L1238.5,2175 L1237,2179 L1235.5,2183 L1234,2187 L1232.5,2191 L1231,2195 L1229.5,2199 L1228,2203 L1226.5,2207 L1224.9,2211 L1223.4,2215 L1221.8,2218.9 L1220.3,2222.9 L1218.7,2226.9 L1217.1,2230.9 L1215.5,2234.9 L1213.9,2238.9 L1212.3,2242.9 L1210.7,2246.9 L1209.1,2250.9 L1207.5,2254.9 L1205.8,2258.9 L1204.2,2262.9 L1202.5,2266.9 L1200.9,2270.8 L1199.2,2274.8 L1197.5,2278.8 L1195.8,2282.8 L1194.1,2286.8 L1192.4,2290.8 L1190.7,2294.8 L1188.9,2298.8 L1187.2,2302.8 L1185.5,2306.8 L1183.7,2310.8 L1181.9,2314.8 L1180.2,2318.7 L1178.4,2322.7 L1176.6,2326.7 L1174.8,2330.7 L1173,2334.7 L1171.1,2338.7 L1169.3,2342.7" fill="none" stroke="#1a1aff" stroke-width="3.2" stroke-linejoin="round" stroke-linecap="round"/>
<path d="M410.7,1846.4 L413.4,1845.2 L416.2,1844 L418.9,1842.7 L421.7,1841.5 L424.4,1840.3 L427.1,1839.1 L429.9,1837.9 L432.6,1836.6 L435.4,1835.4 L438.1,1834.1 L440.8,1832.8 L443.4,1831.4 L446.1,1830.1 L448.8,1828.7 L451.4,1827.3 L454.1,1825.9 L456.7,1824.5 L459.4,1823.1 L462,1821.7 L464.7,1820.3 L467.3,1818.9 L470,1817.5 L472.6,1816.1 L475.3,1814.6 L477.8,1813.1 L480.4,1811.5 L482.9,1809.8 L485.3,1808.1 L487.8,1806.4 L490.3,1804.7 L492.7,1803 L495.2,1801.3 L497.7,1799.6 L500.1,1797.9 L502.6,1796.2 L505.1,1794.5 L507.5,1792.8 L510,1791.1 L512.5,1789.4 L515,1787.8 L517.6,1786.2 L520.1,1784.6 L522.6,1783 L525.2,1781.4 L527.7,1779.8 L530.3,1778.2 L532.8,1776.6 L535.2,1774.9 L537.5,1773 L539.7,1771 L541.9,1768.9 L544,1766.8 L546.1,1764.6 L548.2,1762.5 L550.4,1760.4 L552.5,1758.3 L554.6,1756.1 L556.7,1754 L558.8,1751.9 L561,1749.8 L563.1,1747.7 L565.2,1745.6 L567.4,1743.5 L569.7,1741.6 L572,1739.7 L574.4,1737.9 L576.8,1736 L579.2,1734.2 L581.5,1732.4 L583.9,1730.5 L586.3,1728.7 L588.7,1726.9 L591,1725 L593.4,1723.2 L595.8,1721.4 L598.2,1719.5 L600.5,1717.7 L602.9,1715.9 L605.3,1714.1 L607.7,1712.2 L610,1710.4 L612.3,1708.5 L614.6,1706.5 L616.7,1704.4 L618.8,1702.2 L620.8,1700 L622.8,1697.8 L624.8,1695.6 L626.9,1693.3 L628.9,1691.1 L630.9,1688.9 L632.9,1686.7 L634.9,1684.5 L637,1682.3 L639,1680.1 L641,1677.8 L643,1675.6 L645.1,1673.4 L647.1,1671.2 L649.1,1669 L651.1,1666.8 L653.2,1664.5 L655.2,1662.3 L657.1,1660.1 L659,1657.7 L660.7,1655.3 L662.4,1652.8 L663.9,1650.3 L665.5,1647.7 L667.1,1645.1 L668.6,1642.6 L670.2,1640 L671.7,1637.4 L673.3,1634.9 L674.8,1632.3 L676.4,1629.7 L678,1627.2 L679.8,1624.8 L681.7,1622.5 L683.7,1620.3 L685.8,1618.2 L687.8,1616 L689.7,1613.6 L691.4,1611.2 L693.1,1608.7 L694.7,1606.2 L696.4,1603.7 L698,1601.2 L699.6,1598.7 L701.2,1596.1 L702.9,1593.6 L704.5,1591.1 L706.1,1588.6 L707.8,1586.1 L709.5,1583.6 L711.2,1581.1 L712.9,1578.7 L714.6,1576.2 L716.3,1573.7 L718,1571.2 L719.7,1568.8 L721.4,1566.3 L723.1,1563.8 L724.8,1561.4 L726.5,1558.9 L728.2,1556.4 L730,1554 L731.8,1551.6 L733.5,1549.2 L735.3,1546.8 L737.1,1544.3 L738.9,1541.9 L740.7,1539.5 L742.4,1537.1 L744.2,1534.7 L746,1532.3 L747.8,1529.9 L749.6,1527.4 L751.3,1525 L753.2,1522.6 L755,1520.3 L757,1518 L759,1515.9 L761.1,1513.7 L763.2,1511.6 L765.3,1509.4 L767.3,1507.2 L769.2,1504.9 L770.9,1502.5 L772.5,1499.9 L774.1,1497.4 L775.6,1494.8 L777.2,1492.2 L778.7,1489.7 L780.3,1487.1 L781.8,1484.5 L783.3,1481.9 L784.9,1479.4 L786.4,1476.8 L788,1474.3 L789.6,1471.7 L791.2,1469.2 L792.8,1466.6 L794.3,1464.1 L795.9,1461.5 L797.5,1459 L799.1,1456.4 L800.7,1453.9 L802.2,1451.3 L803.8,1448.9 L804.2,1448.2 L804.2,1448.2 L836.3,1448.2 L836.3,1448.2 L835,1452.2 L833.7,1456.2 L832.4,1460.2 L831.1,1464.2 L829.8,1468.2 L828.5,1472.2 L827.3,1476.1 L826.1,1480.1 L824.8,1484.1 L823.6,1488.1 L822.4,1492.1 L821.2,1496.1 L820,1500.1 L818.9,1504.1 L817.7,1508.1 L816.5,1512.1 L815.4,1516.1 L814.2,1520.1 L813.1,1524.1 L812,1528 L810.8,1532 L809.7,1536 L808.6,1540 L807.5,1544 L806.4,1548 L805.3,1552 L804.2,1556 L803.1,1560 L802,1564 L800.9,1568 L799.8,1572 L798.7,1576 L797.6,1579.9 L796.5,1583.9 L795.3,1587.9 L794.2,1591.9 L793.1,1595.9 L792,1599.9 L790.9,1603.9 L789.8,1607.9 L788.7,1611.9 L787.5,1615.9 L786.4,1619.9 L785.3,1623.9 L784.1,1627.8 L782.9,1631.8 L781.8,1635.8 L780.6,1639.8 L779.4,1643.8 L778.2,1647.8 L777,1651.8 L775.8,1655.8 L774.6,1659.8 L773.4,1663.8 L772.1,1667.8 L770.9,1671.8 L769.6,1675.8 L768.3,1679.7 L767,1683.7 L765.7,1687.7 L764.4,1691.7 L763.1,1695.7 L761.7,1699.7 L760.3,1703.7 L758.9,1707.7 L757.5,1711.7 L756.1,1715.7 L754.7,1719.7 L753.2,1723.7 L751.7,1727.7 L750.2,1731.6 L748.7,1735.6 L747.2,1739.6 L745.6,1743.6 L744,1747.6 L742.4,1751.6 L740.8,1755.6 L739.1,1759.6 L737.4,1763.6 L735.7,1767.6 L734,1771.6 L732.3,1775.6 L730.5,1779.6 L728.7,1783.5 L726.8,1787.5 L725,1791.5 L723.1,1795.5 L721.2,1799.5 L719.2,1803.5 L717.3,1807.5" fill="none" stroke="#5a5a5a" stroke-width="1.8" stroke-linejoin="round" stroke-linecap="round"/>
<path d="M410.7,1846.4 L413.4,1845.1 L416.1,1843.8 L418.8,1842.6 L421.6,1841.3 L424.3,1840 L427,1838.7 L429.7,1837.5 L432.4,1836.2 L435.1,1834.9 L437.9,1833.6 L440.6,1832.4 L443.3,1831.1 L446,1829.8 L448.7,1828.5 L451.4,1827.3 L454.1,1826 L456.9,1824.7 L459.6,1823.5 L462.3,1822.2 L465,1820.9 L467.7,1819.7 L470.5,1818.4 L473.2,1817.1 L475.9,1815.9 L478.6,1814.6 L481.3,1813.3 L484.1,1812.1 L486.8,1810.8 L489.5,1809.5 L492.2,1808.3 L494.9,1807 L497.7,1805.7 L500.4,1804.5 L503.1,1803.2 L505.8,1801.9 L508.5,1800.7 L511.3,1799.4 L513.9,1798.1 L516.5,1796.6 L519.1,1795 L521.5,1793.3 L523.9,1791.5 L526.3,1789.7 L528.7,1787.9 L531.1,1786.1 L533.5,1784.3 L535.9,1782.5 L538.3,1780.7 L540.7,1778.9 L543.1,1777.1 L545.5,1775.3 L547.9,1773.5 L550.3,1771.7 L552.7,1769.9 L555.1,1768.1 L557.5,1766.3 L559.9,1764.5 L562.3,1762.7 L564.8,1761 L567.2,1759.3 L569.7,1757.6 L572.2,1755.9 L574.6,1754.1 L576.8,1752.2 L579,1750.1 L581.2,1748 L583.3,1745.9 L585.4,1743.8 L587.5,1741.7 L589.7,1739.5 L591.8,1737.4 L593.9,1735.3 L596,1733.2 L598.1,1731.1 L600.3,1728.9 L602.4,1726.8 L604.5,1724.7 L606.7,1722.6 L608.8,1720.5 L611,1718.4 L613.1,1716.4 L615.3,1714.3 L617.5,1712.2 L619.6,1710.1 L621.8,1708.1 L624,1706 L626.1,1703.9 L628.3,1701.8 L630.5,1699.8 L632.6,1697.7 L634.8,1695.6 L637,1693.5 L639.1,1691.5 L641.3,1689.4 L643.5,1687.3 L645.6,1685.2 L647.8,1683.2 L650,1681.1 L652.1,1678.9 L654.1,1676.8 L656.2,1674.6 L658.1,1672.3 L660.1,1670 L662.1,1667.8 L664,1665.5 L666,1663.2 L667.9,1660.9 L669.9,1658.7 L671.9,1656.4 L673.8,1654.1 L675.8,1651.9 L677.7,1649.6 L679.7,1647.3 L681.7,1645 L683.6,1642.8 L685.6,1640.5 L687.5,1638.2 L689.5,1636 L691.5,1633.8 L693.6,1631.6 L695.6,1629.3 L697.6,1627.1 L699.7,1624.9 L701.7,1622.7 L703.7,1620.5 L705.7,1618.3 L707.8,1616.1 L709.8,1613.9 L711.8,1611.6 L713.7,1609.3 L715.7,1607.1 L717.6,1604.8 L719.6,1602.5 L721.5,1600.2 L723.5,1597.9 L725.4,1595.7 L727.4,1593.4 L729.3,1591.1 L731.3,1588.8 L733.2,1586.5 L735.1,1584.2 L736.9,1581.8 L738.8,1579.5 L740.6,1577.1 L742.5,1574.8 L744.3,1572.4 L746.2,1570 L748,1567.6 L749.8,1565.2 L751.6,1562.8 L753.4,1560.4 L755.2,1558 L757,1555.6 L758.8,1553.2 L760.6,1550.8 L762.4,1548.4 L764.2,1546 L766,1543.6 L767.8,1541.2 L769.6,1538.8 L771.3,1536.4 L773.1,1534 L774.8,1531.5 L776.6,1529.1 L778.3,1526.6 L780.1,1524.2 L781.8,1521.8 L783.6,1519.3 L785.3,1516.9 L787,1514.4 L788.8,1512 L790.5,1509.5 L792.2,1507 L793.8,1504.5 L795.4,1502 L797.1,1499.5 L798.7,1497 L800.3,1494.5 L802,1491.9 L803.6,1489.4 L805.2,1486.9 L806.9,1484.4 L808.5,1481.9 L810.1,1479.3 L811.7,1476.8 L813.3,1474.2 L814.8,1471.7 L816.3,1469.1 L817.8,1466.5 L819.4,1463.9 L820.9,1461.3 L822.4,1458.7 L823.9,1456.1 L825.4,1453.5 L826.9,1451 L828.3,1448.6 L828.5,1448.2 L828.5,1448.2 L867.5,1448.2 L867.5,1448.2 L866.3,1452.2 L865,1456.2 L863.8,1460.2 L862.5,1464.2 L861.3,1468.1 L860.1,1472.1 L858.9,1476.1 L857.8,1480.1 L856.6,1484.1 L855.5,1488.1 L854.3,1492.1 L853.2,1496.1 L852.1,1500 L851,1504 L849.9,1508 L848.8,1512 L847.7,1516 L846.6,1520 L845.5,1524 L844.5,1528 L843.4,1531.9 L842.3,1535.9 L841.3,1539.9 L840.2,1543.9 L839.2,1547.9 L838.1,1551.9 L837,1555.9 L836,1559.9 L834.9,1563.8 L833.9,1567.8 L832.8,1571.8 L831.7,1575.8 L830.7,1579.8 L829.6,1583.8 L828.5,1587.8 L827.4,1591.8 L826.3,1595.7 L825.2,1599.7 L824.1,1603.7 L823,1607.7 L821.9,1611.7 L820.7,1615.7 L819.6,1619.7 L818.4,1623.7 L817.2,1627.7 L816,1631.6 L814.8,1635.6 L813.6,1639.6 L812.4,1643.6 L811.1,1647.6 L809.9,1651.6 L808.6,1655.6 L807.3,1659.6 L806,1663.5 L804.6,1667.5 L803.3,1671.5 L801.9,1675.5 L800.5,1679.5 L799.1,1683.5 L797.6,1687.5 L796.1,1691.5 L794.6,1695.4 L793.1,1699.4 L791.6,1703.4 L790,1707.4 L788.4,1711.4 L786.8,1715.4 L785.1,1719.4 L783.4,1723.4 L781.7,1727.3 L780,1731.3 L778.2,1735.3 L776.4,1739.3 L774.6,1743.3 L772.7,1747.3 L770.8,1751.3 L768.8,1755.3 L766.9,1759.2 L764.8,1763.2 L762.8,1767.2 L760.7,1771.2 L758.6,1775.2 L756.4,1779.2 L754.2,1783.2 L752,1787.2 L749.7,1791.1 L747.4,1795.1 L745,1799.1 L742.6,1803.1 L740.1,1807.1" fill="none" stroke="#ff5c5c" stroke-width="1.8" stroke-linejoin="round" stroke-linecap="round"/>
<path d="M410.7,1846.4 L413.4,1845.1 L416.1,1843.8 L418.8,1842.4 L421.5,1841.1 L424.2,1839.8 L426.9,1838.5 L429.6,1837.2 L432.2,1835.8 L434.9,1834.5 L437.6,1833.2 L440.3,1831.9 L443,1830.5 L445.7,1829.2 L448.4,1827.9 L451.1,1826.6 L453.8,1825.3 L456.5,1823.9 L459.2,1822.6 L461.9,1821.3 L464.6,1820 L467.3,1818.7 L470,1817.4 L472.7,1816.1 L475.4,1814.8 L478.1,1813.5 L480.8,1812.2 L483.5,1810.9 L486.2,1809.6 L488.9,1808.3 L491.6,1807 L494.3,1805.7 L497,1804.4 L499.7,1803.1 L502.4,1801.8 L505.1,1800.5 L507.8,1799.2 L510.5,1797.9 L513.2,1796.6 L515.9,1795.2 L518.6,1793.8 L521.1,1792.3 L523.6,1790.6 L526,1788.8 L528.4,1787 L530.7,1785.2 L533.1,1783.3 L535.5,1781.5 L537.9,1779.7 L540.2,1777.8 L542.6,1776 L545,1774.2 L547.3,1772.3 L549.7,1770.5 L552.1,1768.6 L554.5,1766.8 L556.8,1765 L559.2,1763.2 L561.7,1761.6 L564.3,1760.3 L567,1759.4 L569.8,1758.5 L572.4,1757.3 L574.9,1755.8 L577.2,1754 L579.6,1752.1 L581.9,1750.2 L584.2,1748.3 L586.5,1746.3 L588.8,1744.4 L591.1,1742.5 L593.4,1740.6 L595.7,1738.7 L598.1,1736.8 L600.4,1734.9 L602.7,1733 L605,1731.1 L607.3,1729.1 L609.6,1727.2 L611.8,1725.2 L614,1723.1 L616.2,1721.1 L618.4,1719 L620.5,1716.9 L622.7,1714.9 L624.9,1712.8 L627,1710.7 L629.2,1708.7 L631.4,1706.6 L633.6,1704.5 L635.7,1702.5 L637.9,1700.4 L640.1,1698.3 L642.2,1696.2 L644.4,1694.2 L646.6,1692.1 L648.8,1690 L650.9,1688 L653.1,1685.9 L655.3,1683.9 L657.5,1681.8 L659.7,1679.8 L661.9,1677.8 L664.1,1675.7 L666.3,1673.7 L668.6,1671.7 L670.8,1669.6 L673,1667.6 L675.2,1665.6 L677.3,1663.5 L679.4,1661.4 L681.4,1659.1 L683.3,1656.8 L685.2,1654.5 L687.1,1652.2 L689,1649.9 L690.9,1647.5 L692.8,1645.2 L694.7,1642.9 L696.6,1640.5 L698.5,1638.2 L700.4,1635.9 L702.3,1633.5 L704.2,1631.2 L706.1,1629 L708.1,1626.7 L710.1,1624.4 L712,1622.2 L714,1619.9 L716,1617.7 L718,1615.4 L720,1613.2 L722,1610.9 L724,1608.7 L725.9,1606.4 L727.9,1604.2 L729.9,1601.9 L731.9,1599.7 L733.9,1597.5 L735.9,1595.2 L738,1593 L740,1590.8 L742,1588.6 L744.1,1586.4 L746.1,1584.2 L748.1,1582 L750.2,1579.8 L752.2,1577.6 L754.2,1575.4 L756.2,1573.2 L758.2,1570.9 L760.1,1568.6 L761.9,1566.2 L763.8,1563.8 L765.6,1561.5 L767.5,1559.1 L769.3,1556.8 L771.2,1554.4 L773,1552 L774.9,1549.7 L776.7,1547.3 L778.6,1544.9 L780.4,1542.6 L782.3,1540.2 L784.1,1537.8 L785.9,1535.5 L787.8,1533.1 L789.6,1530.7 L791.4,1528.3 L793.2,1525.9 L794.9,1523.5 L796.6,1521 L798.2,1518.5 L799.9,1516 L801.6,1513.5 L803.2,1511 L804.9,1508.5 L806.6,1506 L808.2,1503.5 L809.9,1501 L811.5,1498.5 L813.2,1496 L814.9,1493.5 L816.5,1491 L818.2,1488.5 L819.9,1486 L821.5,1483.5 L823.1,1481 L824.7,1478.5 L826.3,1475.9 L827.9,1473.3 L829.4,1470.8 L831,1468.2 L832.5,1465.6 L834.1,1463.1 L835.6,1460.5 L837.2,1457.9 L838.8,1455.4 L840.3,1452.8 L841.8,1450.3 L843.1,1448.2 L843.1,1448.2 L888.9,1448.2 L888.9,1448.2 L887.7,1452.2 L886.5,1456.2 L885.3,1460.2 L884.1,1464.1 L882.9,1468.1 L881.7,1472.1 L880.6,1476.1 L879.4,1480.1 L878.3,1484.1 L877.1,1488 L876,1492 L874.9,1496 L873.8,1500 L872.7,1504 L871.6,1508 L870.5,1512 L869.5,1515.9 L868.4,1519.9 L867.3,1523.9 L866.2,1527.9 L865.2,1531.9 L864.1,1535.9 L863,1539.8 L862,1543.8 L860.9,1547.8 L859.8,1551.8 L858.7,1555.8 L857.7,1559.8 L856.6,1563.7 L855.5,1567.7 L854.4,1571.7 L853.3,1575.7 L852.2,1579.7 L851.1,1583.7 L850,1587.7 L848.9,1591.6 L847.7,1595.6 L846.6,1599.6 L845.4,1603.6 L844.2,1607.6 L843.1,1611.6 L841.9,1615.5 L840.7,1619.5 L839.4,1623.5 L838.2,1627.5 L837,1631.5 L835.7,1635.5 L834.4,1639.5 L833.1,1643.4 L831.8,1647.4 L830.5,1651.4 L829.1,1655.4 L827.7,1659.4 L826.3,1663.4 L824.9,1667.3 L823.5,1671.3 L822,1675.3 L820.5,1679.3 L819,1683.3 L817.5,1687.3 L815.9,1691.3 L814.3,1695.2 L812.7,1699.2 L811,1703.2 L809.4,1707.2 L807.7,1711.2 L805.9,1715.2 L804.2,1719.1 L802.4,1723.1 L800.5,1727.1 L798.7,1731.1 L796.8,1735.1 L794.9,1739.1 L792.9,1743 L790.9,1747 L788.9,1751 L786.8,1755 L784.7,1759 L782.5,1763 L780.4,1767 L778.1,1770.9 L775.9,1774.9 L773.6,1778.9 L771.2,1782.9 L768.8,1786.9 L766.4,1790.9 L763.9,1794.8 L761.4,1798.8 L758.8,1802.8 L756.2,1806.8" fill="none" stroke="#5c5cff" stroke-width="1.8" stroke-linejoin="round" stroke-linecap="round"/>
</svg>
</body></html>
